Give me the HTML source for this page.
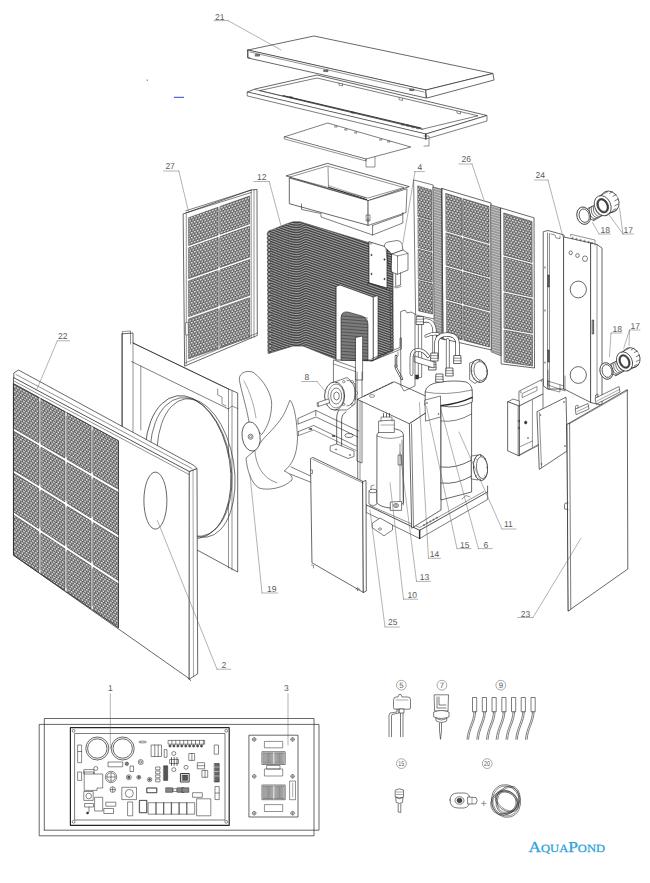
<!DOCTYPE html>
<html><head><meta charset="utf-8"><style>html,body{margin:0;padding:0;background:#fff;width:650px;height:883px;overflow:hidden}svg{display:block}text{-webkit-font-smoothing:antialiased;text-rendering:geometricPrecision}</style></head>
<body><svg width="650" height="883" viewBox="0 0 650 883" font-family="Liberation Sans, sans-serif" stroke-linejoin="round" stroke-linecap="round">
<defs><pattern id="holes" width="3" height="5" patternUnits="userSpaceOnUse" patternTransform="rotate(0)">
<rect width="3" height="5" fill="#606060"/><rect x="0.25" y="0.4" width="2.05" height="1.65" rx="0.75" fill="#f6f6f6"/><rect x="1.75" y="2.9" width="2.05" height="1.65" rx="0.75" fill="#f6f6f6"/><rect x="-1.25" y="2.9" width="2.05" height="1.65" rx="0.75" fill="#f6f6f6"/></pattern><pattern id="holes2" width="3" height="5" patternUnits="userSpaceOnUse" patternTransform="skewY(-19)">
<rect width="3" height="5" fill="#606060"/><rect x="0.25" y="0.4" width="2.05" height="1.65" rx="0.75" fill="#f6f6f6"/><rect x="1.75" y="2.9" width="2.05" height="1.65" rx="0.75" fill="#f6f6f6"/><rect x="-1.25" y="2.9" width="2.05" height="1.65" rx="0.75" fill="#f6f6f6"/></pattern><pattern id="holes3" width="3" height="5" patternUnits="userSpaceOnUse" patternTransform="skewY(17)">
<rect width="3" height="5" fill="#606060"/><rect x="0.25" y="0.4" width="2.05" height="1.65" rx="0.75" fill="#f6f6f6"/><rect x="1.75" y="2.9" width="2.05" height="1.65" rx="0.75" fill="#f6f6f6"/><rect x="-1.25" y="2.9" width="2.05" height="1.65" rx="0.75" fill="#f6f6f6"/></pattern><pattern id="holes4" width="3" height="5" patternUnits="userSpaceOnUse" patternTransform="skewY(28)">
<rect width="3" height="5" fill="#606060"/><rect x="0.25" y="0.4" width="2.05" height="1.65" rx="0.75" fill="#f6f6f6"/><rect x="1.75" y="2.9" width="2.05" height="1.65" rx="0.75" fill="#f6f6f6"/><rect x="-1.25" y="2.9" width="2.05" height="1.65" rx="0.75" fill="#f6f6f6"/></pattern><pattern id="slats" width="6" height="2.6" patternUnits="userSpaceOnUse" patternTransform="skewY(17)">
<rect width="6" height="2.6" fill="#eee"/><path d="M0 0.6H6M0 2H6" stroke="#444" stroke-width="0.55"/></pattern><clipPath id="coilclip"><polygon points="268.6,231 272.3,229.7 285,224.5 293,221.8 300,221.8 393,250 393,351 372,361 336.5,359.5 303,346 293,346 268.5,353.5"/></clipPath></defs>
<rect width="650" height="883" fill="#fff"/>
<polygon points="248,50 314,36 493,73.5 426,90" fill="#fff" stroke="#262626" stroke-width="0.7"/>
<polygon points="248,50 426,90 426,98 248,58" fill="#fff" stroke="#262626" stroke-width="0.7"/>
<polygon points="426,90 493,73.5 494,80 427,98" fill="#fff" stroke="#262626" stroke-width="0.7"/>
<line x1="250" y1="52" x2="424" y2="92" stroke="#262626" stroke-width="0.5"/>
<rect x="255.5" y="54.5" width="4" height="1.6" fill="#888" stroke="#262626" stroke-width="0.5"/>
<rect x="324" y="70" width="4" height="1.6" fill="#888" stroke="#262626" stroke-width="0.5"/>
<rect x="410" y="89" width="4" height="1.6" fill="#888" stroke="#262626" stroke-width="0.5"/>
<polyline points="248,50 248,57.5 250,58" fill="none" stroke="#262626" stroke-width="0.6"/>
<polygon points="247.6,92 255,89 317,75 487,115.5 426,134" fill="#fff" stroke="#262626" stroke-width="0.7"/>
<polygon points="260,90.5 317,78 478,115.8 423,129" fill="#fff" stroke="#262626" stroke-width="0.6"/>
<line x1="255" y1="89.5" x2="423" y2="129.5" stroke="#262626" stroke-width="0.5"/>
<line x1="283" y1="95.5" x2="421" y2="128" stroke="#262626" stroke-width="0.9"/>
<polygon points="247.6,92 426,134 426,139 247.6,96" fill="#fff" stroke="#262626" stroke-width="0.6"/>
<polygon points="426,134 487,115.5 487,121 426,139" fill="#fff" stroke="#262626" stroke-width="0.6"/>
<line x1="426" y1="134" x2="426" y2="139" stroke="#262626" stroke-width="0.9"/>
<polyline points="424,136 429,136 429,146 424,146" fill="none" stroke="#262626" stroke-width="0.5"/>
<rect x="290" y="96.5" width="2" height="1.3" fill="none" stroke="#262626" stroke-width="0.4"/>
<rect x="352" y="112" width="2" height="1.3" fill="none" stroke="#262626" stroke-width="0.4"/>
<rect x="402" y="124" width="2" height="1.3" fill="none" stroke="#262626" stroke-width="0.4"/>
<rect x="407" y="125" width="2" height="1.3" fill="none" stroke="#262626" stroke-width="0.4"/>
<rect x="412" y="126.5" width="2" height="1.3" fill="none" stroke="#262626" stroke-width="0.4"/>
<rect x="417" y="127.5" width="2" height="1.3" fill="none" stroke="#262626" stroke-width="0.4"/>
<polyline points="339,83 339,85.2 342.5,86 342.5,83.8" fill="none" stroke="#262626" stroke-width="0.5"/>
<polyline points="399,97.5 399,99.7 402.5,100.5 402.5,98.3" fill="none" stroke="#262626" stroke-width="0.5"/>
<polyline points="457,111 457,113.2 460.5,114 460.5,111.8" fill="none" stroke="#262626" stroke-width="0.5"/>
<polygon points="284.6,136.8 327.7,123 410.8,147 366,159" fill="#fff" stroke="#262626" stroke-width="0.6"/>
<polygon points="284.6,136.8 366,159 366,161 284.6,139" fill="#fff" stroke="#262626" stroke-width="0.5"/>
<polyline points="366,159 366,167 375,167 375,157" fill="none" stroke="#262626" stroke-width="0.5"/>
<rect x="335" y="126" width="2" height="1.2" fill="none" stroke="#262626" stroke-width="0.4"/>
<rect x="345" y="129" width="2" height="1.2" fill="none" stroke="#262626" stroke-width="0.4"/>
<rect x="355" y="132" width="2" height="1.2" fill="none" stroke="#262626" stroke-width="0.4"/>
<rect x="380" y="139" width="2" height="1.2" fill="none" stroke="#262626" stroke-width="0.4"/>
<rect x="388" y="141" width="2" height="1.2" fill="none" stroke="#262626" stroke-width="0.4"/>
<polygon points="286.5,175.8 327.4,163.4 409.2,186.6 368.3,200.6" fill="#fff" stroke="#262626" stroke-width="0.7"/>
<polygon points="290,177 327.4,166 404,187.5 368,198" fill="#fff" stroke="#262626" stroke-width="0.5"/>
<polygon points="289.7,178 368.3,200.6 368.3,225.4 289.7,203.8" fill="#fff" stroke="#262626" stroke-width="0.7"/>
<polygon points="368.3,200.6 407,188.8 406,212.5 368.3,225.4" fill="#fff" stroke="#262626" stroke-width="0.6"/>
<line x1="328" y1="167" x2="328.5" y2="187" stroke="#262626" stroke-width="0.5"/>
<line x1="329" y1="187.5" x2="366.5" y2="199.5" stroke="#262626" stroke-width="1.0"/>
<line x1="329" y1="185.8" x2="366" y2="197.8" stroke="#262626" stroke-width="0.4"/>
<polyline points="301.5,203.8 301.5,209.5 321,213.5 321,217 372.6,235 402.8,223 402.8,212.5" fill="none" stroke="#262626" stroke-width="0.6"/>
<line x1="372.6" y1="225.4" x2="372.6" y2="235" stroke="#262626" stroke-width="0.6"/>
<line x1="372.6" y1="225.4" x2="402.8" y2="214.6" stroke="#262626" stroke-width="0.6"/>
<rect x="366.5" y="215" width="3.5" height="6" fill="none" stroke="#262626" stroke-width="0.5"/>
<ellipse cx="368.2" cy="219.5" rx="1" ry="1" fill="none" stroke="#262626" stroke-width="0.4" stroke-linecap="butt"/>
<polygon points="183.5,213.8 251.2,190 257,189.5 257.3,335.4 185,366" fill="#fff" stroke="#262626" stroke-width="0.7"/>
<polyline points="185.8,210.8 251.2,190" fill="none" stroke="#262626" stroke-width="0.6"/>
<polyline points="185.8,213 251.2,192.5" fill="none" stroke="#262626" stroke-width="0.6"/>
<line x1="251.2" y1="190" x2="251.2" y2="338" stroke="#262626" stroke-width="0.5"/>
<line x1="254" y1="189.6" x2="254" y2="337" stroke="#262626" stroke-width="0.5"/>
<line x1="186.3" y1="214" x2="186.3" y2="364" stroke="#262626" stroke-width="0.5"/>
<polyline points="185,363 257.3,333" fill="none" stroke="#262626" stroke-width="0.5"/>
<polygon points="188.8,217.7 218.1,207.3 218.1,235 188.8,245.4" fill="url(#holes2)" stroke="#262626" stroke-width="0.5"/>
<polygon points="188.8,247.8 218.1,237.4 218.1,268.2 188.8,278.5" fill="url(#holes2)" stroke="#262626" stroke-width="0.5"/>
<polygon points="188.8,280.9 218.1,270.6 218.1,306.3 188.8,316.6" fill="url(#holes2)" stroke="#262626" stroke-width="0.5"/>
<polygon points="188.8,319 218.1,308.7 218.1,348.5 188.8,358.7" fill="url(#holes2)" stroke="#262626" stroke-width="0.5"/>
<polygon points="220.3,206.4 249.6,196 249.6,223.8 220.3,234.2" fill="url(#holes2)" stroke="#262626" stroke-width="0.5"/>
<polygon points="220.3,236.6 249.6,226.2 249.6,257.1 220.3,267.4" fill="url(#holes2)" stroke="#262626" stroke-width="0.5"/>
<polygon points="220.3,269.8 249.6,259.5 249.6,295.3 220.3,305.5" fill="url(#holes2)" stroke="#262626" stroke-width="0.5"/>
<polygon points="220.3,307.9 249.6,297.7 249.6,337.5 220.3,347.7" fill="url(#holes2)" stroke="#262626" stroke-width="0.5"/>
<line x1="219.2" y1="209.9" x2="219.2" y2="232.8" stroke="#777" stroke-width="0.8"/>
<line x1="219.2" y1="238.8" x2="219.2" y2="266" stroke="#777" stroke-width="0.8"/>
<line x1="219.2" y1="272" x2="219.2" y2="304.1" stroke="#777" stroke-width="0.8"/>
<line x1="219.2" y1="310.1" x2="219.2" y2="345.1" stroke="#777" stroke-width="0.8"/>
<rect x="186" y="322.6" width="2.3" height="12.4" fill="#fff" stroke="#262626" stroke-width="0.5"/>
<polygon points="414,180 433.2,185 434.5,319 416,315" fill="#fff" stroke="#262626" stroke-width="0.6"/>
<polygon points="418,186 431.5,190 431.7,220.2 418.2,216.5" fill="url(#holes3)" stroke="#262626" stroke-width="0.5"/>
<polygon points="418.3,218 431.8,221.8 432,251.2 418.5,247.7" fill="url(#holes3)" stroke="#262626" stroke-width="0.5"/>
<polygon points="418.5,249.3 432,252.8 432.2,282.2 418.7,279" fill="url(#holes3)" stroke="#262626" stroke-width="0.5"/>
<polygon points="418.8,280.5 432.3,283.8 432.5,314 419,311" fill="url(#holes3)" stroke="#262626" stroke-width="0.5"/>
<polygon points="433.2,187 444.3,190 444.8,340 434.5,336" fill="url(#slats)" stroke="#262626" stroke-width="0.5"/>
<polygon points="442,188.5 491,203 491.5,350 443.5,339" fill="#fff" stroke="#262626" stroke-width="0.7"/>
<line x1="442" y1="188.5" x2="442" y2="339" stroke="#262626" stroke-width="0.6"/>
<polygon points="446,193.5 461.4,198.2 461.6,235.4 446.3,231" fill="url(#holes3)" stroke="#262626" stroke-width="0.5"/>
<polygon points="446.3,233 461.6,237.4 461.8,269.5 446.5,265.2" fill="url(#holes3)" stroke="#262626" stroke-width="0.5"/>
<polygon points="446.5,267.2 461.8,271.5 462,303.5 446.7,299.4" fill="url(#holes3)" stroke="#262626" stroke-width="0.5"/>
<polygon points="446.8,301.4 462,305.5 462.2,339.9 447,336" fill="url(#holes3)" stroke="#262626" stroke-width="0.5"/>
<polygon points="463.3,198.7 489,206.5 489.1,243.4 463.5,236" fill="url(#holes3)" stroke="#262626" stroke-width="0.5"/>
<polygon points="463.5,238 489.1,245.4 489.3,277.2 463.7,270" fill="url(#holes3)" stroke="#262626" stroke-width="0.5"/>
<polygon points="463.7,272 489.3,279.1 489.4,310.9 463.9,304" fill="url(#holes3)" stroke="#262626" stroke-width="0.5"/>
<polygon points="463.9,306 489.4,312.9 489.5,347 464.1,340.4" fill="url(#holes3)" stroke="#262626" stroke-width="0.5"/>
<line x1="462.4" y1="200.9" x2="462.5" y2="234.2" stroke="#777" stroke-width="0.8"/>
<line x1="462.6" y1="239.2" x2="462.7" y2="268.2" stroke="#777" stroke-width="0.8"/>
<line x1="462.8" y1="273.2" x2="462.9" y2="302.3" stroke="#777" stroke-width="0.8"/>
<line x1="463" y1="307.2" x2="463.1" y2="337.7" stroke="#777" stroke-width="0.8"/>
<polygon points="491,205 501,208 501.5,356 491.5,352" fill="url(#slats)" stroke="#262626" stroke-width="0.5"/>
<polygon points="501,208 534,217.8 534.5,368 501.5,364" fill="#fff" stroke="#262626" stroke-width="0.7"/>
<polygon points="504,213 532,221.5 532.1,262.4 504.1,255.2" fill="url(#holes3)" stroke="#262626" stroke-width="0.5"/>
<polygon points="504.1,257.2 532.1,264.4 532.3,297.1 504.3,291" fill="url(#holes3)" stroke="#262626" stroke-width="0.5"/>
<polygon points="504.3,293 532.3,299.1 532.4,333.2 504.4,328.2" fill="url(#holes3)" stroke="#262626" stroke-width="0.5"/>
<polygon points="504.4,330.2 532.4,335.2 532.5,366 504.5,362" fill="url(#holes3)" stroke="#262626" stroke-width="0.5"/>
<polygon points="543.6,231.6 548,230.5 564,235 564,389 547.6,389 543.6,386" fill="#fff" stroke="#262626" stroke-width="0.7"/>
<line x1="547.6" y1="233" x2="547.6" y2="388" stroke="#262626" stroke-width="0.6"/>
<line x1="549.5" y1="233.5" x2="549.5" y2="388" stroke="#262626" stroke-width="0.5"/>
<polyline points="551,234 555,235 556,238 560,238.5 560,236" fill="none" stroke="#262626" stroke-width="0.5"/>
<rect x="548" y="275" width="1.3" height="12" fill="#666" stroke="#262626" stroke-width="0.5"/>
<rect x="548" y="350" width="1.3" height="12" fill="#666" stroke="#262626" stroke-width="0.5"/>
<line x1="545" y1="267" x2="545" y2="268" stroke="#262626" stroke-width="0.8"/>
<line x1="545" y1="310" x2="545" y2="311" stroke="#262626" stroke-width="0.8"/>
<line x1="545" y1="362" x2="545" y2="363" stroke="#262626" stroke-width="0.8"/>
<polyline points="547.6,381 564,386" fill="none" stroke="#262626" stroke-width="0.5"/>
<polygon points="564,237 591,243 591,402.6 564,389" fill="#fff" stroke="#262626" stroke-width="0.7"/>
<polygon points="591,243 597,244.5 602,248 602,405 597,404 591,402.6" fill="#fff" stroke="#262626" stroke-width="0.7"/>
<line x1="597" y1="244.5" x2="597" y2="404" stroke="#262626" stroke-width="0.5"/>
<rect x="592.5" y="320" width="1.2" height="14" fill="#666" stroke="#262626" stroke-width="0.5"/>
<ellipse cx="578.3" cy="289.5" rx="8.1" ry="8.4" fill="none" stroke="#262626" stroke-width="0.7" stroke-linecap="butt"/>
<ellipse cx="578.3" cy="375" rx="8.1" ry="8.4" fill="none" stroke="#262626" stroke-width="0.7" stroke-linecap="butt"/>
<ellipse cx="570.7" cy="252.8" rx="1.7" ry="1.9" fill="none" stroke="#262626" stroke-width="0.6" stroke-linecap="butt"/>
<ellipse cx="577.5" cy="255.5" rx="1.8" ry="2" fill="none" stroke="#262626" stroke-width="0.6" stroke-linecap="butt"/>
<ellipse cx="585" cy="258.7" rx="2.5" ry="2.8" fill="none" stroke="#262626" stroke-width="0.6" stroke-linecap="butt"/>
<polyline points="570.7,236 570.7,234.3 595,240 595,245" fill="none" stroke="#262626" stroke-width="0.5"/>
<ellipse cx="572.5" cy="238" rx="0.8" ry="0.8" fill="none" stroke="#262626" stroke-width="0.45" stroke-linecap="butt"/>
<ellipse cx="576.5" cy="239" rx="0.8" ry="0.8" fill="none" stroke="#262626" stroke-width="0.45" stroke-linecap="butt"/>
<ellipse cx="580.5" cy="240" rx="0.8" ry="0.8" fill="none" stroke="#262626" stroke-width="0.45" stroke-linecap="butt"/>
<ellipse cx="584.5" cy="241" rx="0.8" ry="0.8" fill="none" stroke="#262626" stroke-width="0.45" stroke-linecap="butt"/>
<ellipse cx="588.5" cy="242" rx="0.8" ry="0.8" fill="none" stroke="#262626" stroke-width="0.45" stroke-linecap="butt"/>
<ellipse cx="592" cy="243" rx="0.8" ry="0.8" fill="none" stroke="#262626" stroke-width="0.45" stroke-linecap="butt"/>
<polyline points="548,381 548,389 560,392 560,385" fill="none" stroke="#262626" stroke-width="0.5"/>
<g clip-path="url(#coilclip)">
<polygon points="268.6,231 272.3,229.7 285,224.5 293,221.8 300,221.8 393,250 393,351 372,361 336.5,359.5 303,346 293,346 268.5,353.5" fill="#454545"/>
<path d="M268 180.4 C282 185.4 290 189.7 297 189.7 C301 189.7 303 187.2 306 186.7 L393 217.1" fill="none" stroke="#b8b8b8" stroke-width="0.85"/>
<path d="M268 182.9 C282 187.9 290 192.2 297 192.2 C301 192.2 303 189.7 306 189.2 L393 219.6" fill="none" stroke="#b8b8b8" stroke-width="0.85"/>
<path d="M268 185.3 C282 190.3 290 194.6 297 194.6 C301 194.6 303 192.1 306 191.6 L393 222" fill="none" stroke="#b8b8b8" stroke-width="0.85"/>
<path d="M268 187.8 C282 192.8 290 197.1 297 197.1 C301 197.1 303 194.6 306 194.1 L393 224.5" fill="none" stroke="#b8b8b8" stroke-width="0.85"/>
<path d="M268 190.2 C282 195.2 290 199.5 297 199.5 C301 199.5 303 197 306 196.5 L393 226.9" fill="none" stroke="#b8b8b8" stroke-width="0.85"/>
<path d="M268 192.7 C282 197.7 290 201.9 297 201.9 C301 201.9 303 199.4 306 198.9 L393 229.4" fill="none" stroke="#b8b8b8" stroke-width="0.85"/>
<path d="M268 195.1 C282 200.1 290 204.4 297 204.4 C301 204.4 303 201.9 306 201.4 L393 231.8" fill="none" stroke="#b8b8b8" stroke-width="0.85"/>
<path d="M268 197.6 C282 202.6 290 206.8 297 206.8 C301 206.8 303 204.3 306 203.8 L393 234.3" fill="none" stroke="#b8b8b8" stroke-width="0.85"/>
<path d="M268 200 C282 205 290 209.3 297 209.3 C301 209.3 303 206.8 306 206.3 L393 236.8" fill="none" stroke="#b8b8b8" stroke-width="0.85"/>
<path d="M268 202.5 C282 207.5 290 211.8 297 211.8 C301 211.8 303 209.2 306 208.8 L393 239.2" fill="none" stroke="#b8b8b8" stroke-width="0.85"/>
<path d="M268 204.9 C282 209.9 290 214.2 297 214.2 C301 214.2 303 211.7 306 211.2 L393 241.6" fill="none" stroke="#b8b8b8" stroke-width="0.85"/>
<path d="M268 207.4 C282 212.4 290 216.7 297 216.7 C301 216.7 303 214.2 306 213.7 L393 244.1" fill="none" stroke="#b8b8b8" stroke-width="0.85"/>
<path d="M268 209.8 C282 214.8 290 219.1 297 219.1 C301 219.1 303 216.6 306 216.1 L393 246.5" fill="none" stroke="#b8b8b8" stroke-width="0.85"/>
<path d="M268 212.3 C282 217.3 290 221.6 297 221.6 C301 221.6 303 219.1 306 218.6 L393 249" fill="none" stroke="#b8b8b8" stroke-width="0.85"/>
<path d="M268 214.7 C282 219.7 290 224 297 224 C301 224 303 221.5 306 221 L393 251.4" fill="none" stroke="#b8b8b8" stroke-width="0.85"/>
<path d="M268 217.2 C282 222.2 290 226.4 297 226.4 C301 226.4 303 223.9 306 223.4 L393 253.9" fill="none" stroke="#b8b8b8" stroke-width="0.85"/>
<path d="M268 219.6 C282 224.6 290 228.9 297 228.9 C301 228.9 303 226.4 306 225.9 L393 256.4" fill="none" stroke="#b8b8b8" stroke-width="0.85"/>
<path d="M268 222.1 C282 227.1 290 231.3 297 231.3 C301 231.3 303 228.8 306 228.3 L393 258.8" fill="none" stroke="#b8b8b8" stroke-width="0.85"/>
<path d="M268 224.5 C282 229.5 290 233.8 297 233.8 C301 233.8 303 231.3 306 230.8 L393 261.2" fill="none" stroke="#b8b8b8" stroke-width="0.85"/>
<path d="M268 227 C282 232 290 236.2 297 236.2 C301 236.2 303 233.8 306 233.2 L393 263.7" fill="none" stroke="#b8b8b8" stroke-width="0.85"/>
<path d="M268 229.4 C282 234.4 290 238.7 297 238.7 C301 238.7 303 236.2 306 235.7 L393 266.1" fill="none" stroke="#b8b8b8" stroke-width="0.85"/>
<path d="M268 231.9 C282 236.9 290 241.2 297 241.2 C301 241.2 303 238.7 306 238.2 L393 268.6" fill="none" stroke="#b8b8b8" stroke-width="0.85"/>
<path d="M268 234.3 C282 239.3 290 243.6 297 243.6 C301 243.6 303 241.1 306 240.6 L393 271.1" fill="none" stroke="#b8b8b8" stroke-width="0.85"/>
<path d="M268 236.8 C282 241.8 290 246.1 297 246.1 C301 246.1 303 243.6 306 243.1 L393 273.5" fill="none" stroke="#b8b8b8" stroke-width="0.85"/>
<path d="M268 239.2 C282 244.2 290 248.5 297 248.5 C301 248.5 303 246 306 245.5 L393 275.9" fill="none" stroke="#b8b8b8" stroke-width="0.85"/>
<path d="M268 241.7 C282 246.7 290 250.9 297 250.9 C301 250.9 303 248.4 306 247.9 L393 278.4" fill="none" stroke="#b8b8b8" stroke-width="0.85"/>
<path d="M268 244.1 C282 249.1 290 253.4 297 253.4 C301 253.4 303 250.9 306 250.4 L393 280.9" fill="none" stroke="#b8b8b8" stroke-width="0.85"/>
<path d="M268 246.6 C282 251.6 290 255.8 297 255.8 C301 255.8 303 253.3 306 252.8 L393 283.3" fill="none" stroke="#b8b8b8" stroke-width="0.85"/>
<path d="M268 249 C282 254 290 258.3 297 258.3 C301 258.3 303 255.8 306 255.3 L393 285.8" fill="none" stroke="#b8b8b8" stroke-width="0.85"/>
<path d="M268 251.5 C282 256.5 290 260.8 297 260.8 C301 260.8 303 258.2 306 257.8 L393 288.2" fill="none" stroke="#b8b8b8" stroke-width="0.85"/>
<path d="M268 253.9 C282 258.9 290 263.2 297 263.2 C301 263.2 303 260.7 306 260.2 L393 290.6" fill="none" stroke="#b8b8b8" stroke-width="0.85"/>
<path d="M268 256.4 C282 261.4 290 265.6 297 265.6 C301 265.6 303 263.1 306 262.6 L393 293.1" fill="none" stroke="#b8b8b8" stroke-width="0.85"/>
<path d="M268 258.8 C282 263.8 290 268.1 297 268.1 C301 268.1 303 265.6 306 265.1 L393 295.6" fill="none" stroke="#b8b8b8" stroke-width="0.85"/>
<path d="M268 261.3 C282 266.3 290 270.6 297 270.6 C301 270.6 303 268.1 306 267.6 L393 298" fill="none" stroke="#b8b8b8" stroke-width="0.85"/>
<path d="M268 263.7 C282 268.7 290 273 297 273 C301 273 303 270.5 306 270 L393 300.4" fill="none" stroke="#b8b8b8" stroke-width="0.85"/>
<path d="M268 266.2 C282 271.2 290 275.4 297 275.4 C301 275.4 303 272.9 306 272.4 L393 302.9" fill="none" stroke="#b8b8b8" stroke-width="0.85"/>
<path d="M268 268.6 C282 273.6 290 277.9 297 277.9 C301 277.9 303 275.4 306 274.9 L393 305.3" fill="none" stroke="#b8b8b8" stroke-width="0.85"/>
<path d="M268 271.1 C282 276.1 290 280.4 297 280.4 C301 280.4 303 277.9 306 277.4 L393 307.8" fill="none" stroke="#b8b8b8" stroke-width="0.85"/>
<path d="M268 273.5 C282 278.5 290 282.8 297 282.8 C301 282.8 303 280.3 306 279.8 L393 310.2" fill="none" stroke="#b8b8b8" stroke-width="0.85"/>
<path d="M268 276 C282 281 290 285.2 297 285.2 C301 285.2 303 282.8 306 282.2 L393 312.7" fill="none" stroke="#b8b8b8" stroke-width="0.85"/>
<path d="M268 278.4 C282 283.4 290 287.7 297 287.7 C301 287.7 303 285.2 306 284.7 L393 315.1" fill="none" stroke="#b8b8b8" stroke-width="0.85"/>
<path d="M268 280.9 C282 285.9 290 290.1 297 290.1 C301 290.1 303 287.6 306 287.1 L393 317.6" fill="none" stroke="#b8b8b8" stroke-width="0.85"/>
<path d="M268 283.3 C282 288.3 290 292.6 297 292.6 C301 292.6 303 290.1 306 289.6 L393 320.1" fill="none" stroke="#b8b8b8" stroke-width="0.85"/>
<path d="M268 285.8 C282 290.8 290 295.1 297 295.1 C301 295.1 303 292.6 306 292.1 L393 322.5" fill="none" stroke="#b8b8b8" stroke-width="0.85"/>
<path d="M268 288.2 C282 293.2 290 297.5 297 297.5 C301 297.5 303 295 306 294.5 L393 324.9" fill="none" stroke="#b8b8b8" stroke-width="0.85"/>
<path d="M268 290.7 C282 295.7 290 299.9 297 299.9 C301 299.9 303 297.4 306 296.9 L393 327.4" fill="none" stroke="#b8b8b8" stroke-width="0.85"/>
<path d="M268 293.1 C282 298.1 290 302.4 297 302.4 C301 302.4 303 299.9 306 299.4 L393 329.8" fill="none" stroke="#b8b8b8" stroke-width="0.85"/>
<path d="M268 295.6 C282 300.6 290 304.9 297 304.9 C301 304.9 303 302.4 306 301.9 L393 332.3" fill="none" stroke="#b8b8b8" stroke-width="0.85"/>
<path d="M268 298 C282 303 290 307.3 297 307.3 C301 307.3 303 304.8 306 304.3 L393 334.8" fill="none" stroke="#b8b8b8" stroke-width="0.85"/>
<path d="M268 300.5 C282 305.5 290 309.8 297 309.8 C301 309.8 303 307.2 306 306.8 L393 337.2" fill="none" stroke="#b8b8b8" stroke-width="0.85"/>
<path d="M268 302.9 C282 307.9 290 312.2 297 312.2 C301 312.2 303 309.7 306 309.2 L393 339.6" fill="none" stroke="#b8b8b8" stroke-width="0.85"/>
<path d="M268 305.4 C282 310.4 290 314.6 297 314.6 C301 314.6 303 312.1 306 311.6 L393 342.1" fill="none" stroke="#b8b8b8" stroke-width="0.85"/>
<path d="M268 307.8 C282 312.8 290 317.1 297 317.1 C301 317.1 303 314.6 306 314.1 L393 344.6" fill="none" stroke="#b8b8b8" stroke-width="0.85"/>
<path d="M268 310.3 C282 315.3 290 319.6 297 319.6 C301 319.6 303 317.1 306 316.6 L393 347" fill="none" stroke="#b8b8b8" stroke-width="0.85"/>
<path d="M268 312.7 C282 317.7 290 322 297 322 C301 322 303 319.5 306 319 L393 349.4" fill="none" stroke="#b8b8b8" stroke-width="0.85"/>
<path d="M268 315.2 C282 320.2 290 324.4 297 324.4 C301 324.4 303 321.9 306 321.4 L393 351.9" fill="none" stroke="#b8b8b8" stroke-width="0.85"/>
<path d="M268 317.6 C282 322.6 290 326.9 297 326.9 C301 326.9 303 324.4 306 323.9 L393 354.3" fill="none" stroke="#b8b8b8" stroke-width="0.85"/>
<path d="M268 320.1 C282 325.1 290 329.4 297 329.4 C301 329.4 303 326.9 306 326.4 L393 356.8" fill="none" stroke="#b8b8b8" stroke-width="0.85"/>
<path d="M268 322.5 C282 327.5 290 331.8 297 331.8 C301 331.8 303 329.3 306 328.8 L393 359.2" fill="none" stroke="#b8b8b8" stroke-width="0.85"/>
<path d="M268 325 C282 330 290 334.2 297 334.2 C301 334.2 303 331.8 306 331.2 L393 361.7" fill="none" stroke="#b8b8b8" stroke-width="0.85"/>
<path d="M268 327.4 C282 332.4 290 336.7 297 336.7 C301 336.7 303 334.2 306 333.7 L393 364.1" fill="none" stroke="#b8b8b8" stroke-width="0.85"/>
<path d="M268 329.9 C282 334.9 290 339.1 297 339.1 C301 339.1 303 336.6 306 336.1 L393 366.6" fill="none" stroke="#b8b8b8" stroke-width="0.85"/>
<path d="M268 332.3 C282 337.3 290 341.6 297 341.6 C301 341.6 303 339.1 306 338.6 L393 369.1" fill="none" stroke="#b8b8b8" stroke-width="0.85"/>
<path d="M268 334.8 C282 339.8 290 344.1 297 344.1 C301 344.1 303 341.6 306 341.1 L393 371.5" fill="none" stroke="#b8b8b8" stroke-width="0.85"/>
<path d="M268 337.2 C282 342.2 290 346.5 297 346.5 C301 346.5 303 344 306 343.5 L393 373.9" fill="none" stroke="#b8b8b8" stroke-width="0.85"/>
<path d="M268 339.7 C282 344.7 290 348.9 297 348.9 C301 348.9 303 346.4 306 345.9 L393 376.4" fill="none" stroke="#b8b8b8" stroke-width="0.85"/>
<path d="M268 342.1 C282 347.1 290 351.4 297 351.4 C301 351.4 303 348.9 306 348.4 L393 378.8" fill="none" stroke="#b8b8b8" stroke-width="0.85"/>
<path d="M268 344.6 C282 349.6 290 353.9 297 353.9 C301 353.9 303 351.4 306 350.9 L393 381.3" fill="none" stroke="#b8b8b8" stroke-width="0.85"/>
<path d="M268 347 C282 352 290 356.3 297 356.3 C301 356.3 303 353.8 306 353.3 L393 383.8" fill="none" stroke="#b8b8b8" stroke-width="0.85"/>
<path d="M268 349.5 C282 354.5 290 358.8 297 358.8 C301 358.8 303 356.2 306 355.8 L393 386.2" fill="none" stroke="#b8b8b8" stroke-width="0.85"/>
</g>
<polygon points="268.6,231 272.3,229.7 285,224.5 293,221.8 300,221.8 393,250 393,351 372,361 336.5,359.5 303,346 293,346 268.5,353.5" fill="none" stroke="#262626" stroke-width="0.6"/>
<ellipse cx="268.6" cy="234" rx="1.5" ry="1.7" fill="#888" stroke="#262626" stroke-width="0.6" stroke-linecap="butt"/>
<ellipse cx="269.5" cy="234" rx="0.5" ry="0.8" fill="#eee" stroke="none" stroke-width="0" stroke-linecap="butt"/>
<ellipse cx="268.6" cy="238" rx="1.5" ry="1.7" fill="#888" stroke="#262626" stroke-width="0.6" stroke-linecap="butt"/>
<ellipse cx="269.5" cy="238" rx="0.5" ry="0.8" fill="#eee" stroke="none" stroke-width="0" stroke-linecap="butt"/>
<ellipse cx="268.7" cy="242" rx="1.5" ry="1.7" fill="#888" stroke="#262626" stroke-width="0.6" stroke-linecap="butt"/>
<ellipse cx="269.6" cy="242" rx="0.5" ry="0.8" fill="#eee" stroke="none" stroke-width="0" stroke-linecap="butt"/>
<ellipse cx="268.7" cy="246" rx="1.5" ry="1.7" fill="#888" stroke="#262626" stroke-width="0.6" stroke-linecap="butt"/>
<ellipse cx="269.6" cy="246" rx="0.5" ry="0.8" fill="#eee" stroke="none" stroke-width="0" stroke-linecap="butt"/>
<ellipse cx="268.7" cy="250" rx="1.5" ry="1.7" fill="#888" stroke="#262626" stroke-width="0.6" stroke-linecap="butt"/>
<ellipse cx="269.6" cy="250" rx="0.5" ry="0.8" fill="#eee" stroke="none" stroke-width="0" stroke-linecap="butt"/>
<ellipse cx="268.8" cy="254" rx="1.5" ry="1.7" fill="#888" stroke="#262626" stroke-width="0.6" stroke-linecap="butt"/>
<ellipse cx="269.7" cy="254" rx="0.5" ry="0.8" fill="#eee" stroke="none" stroke-width="0" stroke-linecap="butt"/>
<ellipse cx="268.8" cy="258" rx="1.5" ry="1.7" fill="#888" stroke="#262626" stroke-width="0.6" stroke-linecap="butt"/>
<ellipse cx="269.7" cy="258" rx="0.5" ry="0.8" fill="#eee" stroke="none" stroke-width="0" stroke-linecap="butt"/>
<ellipse cx="268.8" cy="262" rx="1.5" ry="1.7" fill="#888" stroke="#262626" stroke-width="0.6" stroke-linecap="butt"/>
<ellipse cx="269.7" cy="262" rx="0.5" ry="0.8" fill="#eee" stroke="none" stroke-width="0" stroke-linecap="butt"/>
<ellipse cx="268.9" cy="266" rx="1.5" ry="1.7" fill="#888" stroke="#262626" stroke-width="0.6" stroke-linecap="butt"/>
<ellipse cx="269.8" cy="266" rx="0.5" ry="0.8" fill="#eee" stroke="none" stroke-width="0" stroke-linecap="butt"/>
<ellipse cx="268.9" cy="270" rx="1.5" ry="1.7" fill="#888" stroke="#262626" stroke-width="0.6" stroke-linecap="butt"/>
<ellipse cx="269.8" cy="270" rx="0.5" ry="0.8" fill="#eee" stroke="none" stroke-width="0" stroke-linecap="butt"/>
<ellipse cx="268.9" cy="274" rx="1.5" ry="1.7" fill="#888" stroke="#262626" stroke-width="0.6" stroke-linecap="butt"/>
<ellipse cx="269.8" cy="274" rx="0.5" ry="0.8" fill="#eee" stroke="none" stroke-width="0" stroke-linecap="butt"/>
<ellipse cx="268.9" cy="278" rx="1.5" ry="1.7" fill="#888" stroke="#262626" stroke-width="0.6" stroke-linecap="butt"/>
<ellipse cx="269.8" cy="278" rx="0.5" ry="0.8" fill="#eee" stroke="none" stroke-width="0" stroke-linecap="butt"/>
<ellipse cx="269" cy="282" rx="1.5" ry="1.7" fill="#888" stroke="#262626" stroke-width="0.6" stroke-linecap="butt"/>
<ellipse cx="269.9" cy="282" rx="0.5" ry="0.8" fill="#eee" stroke="none" stroke-width="0" stroke-linecap="butt"/>
<ellipse cx="269" cy="286" rx="1.5" ry="1.7" fill="#888" stroke="#262626" stroke-width="0.6" stroke-linecap="butt"/>
<ellipse cx="269.9" cy="286" rx="0.5" ry="0.8" fill="#eee" stroke="none" stroke-width="0" stroke-linecap="butt"/>
<ellipse cx="269" cy="290" rx="1.5" ry="1.7" fill="#888" stroke="#262626" stroke-width="0.6" stroke-linecap="butt"/>
<ellipse cx="269.9" cy="290" rx="0.5" ry="0.8" fill="#eee" stroke="none" stroke-width="0" stroke-linecap="butt"/>
<ellipse cx="269.1" cy="294" rx="1.5" ry="1.7" fill="#888" stroke="#262626" stroke-width="0.6" stroke-linecap="butt"/>
<ellipse cx="270" cy="294" rx="0.5" ry="0.8" fill="#eee" stroke="none" stroke-width="0" stroke-linecap="butt"/>
<ellipse cx="269.1" cy="298" rx="1.5" ry="1.7" fill="#888" stroke="#262626" stroke-width="0.6" stroke-linecap="butt"/>
<ellipse cx="270" cy="298" rx="0.5" ry="0.8" fill="#eee" stroke="none" stroke-width="0" stroke-linecap="butt"/>
<ellipse cx="269.1" cy="302" rx="1.5" ry="1.7" fill="#888" stroke="#262626" stroke-width="0.6" stroke-linecap="butt"/>
<ellipse cx="270" cy="302" rx="0.5" ry="0.8" fill="#eee" stroke="none" stroke-width="0" stroke-linecap="butt"/>
<ellipse cx="269.2" cy="306" rx="1.5" ry="1.7" fill="#888" stroke="#262626" stroke-width="0.6" stroke-linecap="butt"/>
<ellipse cx="270.1" cy="306" rx="0.5" ry="0.8" fill="#eee" stroke="none" stroke-width="0" stroke-linecap="butt"/>
<ellipse cx="269.2" cy="310" rx="1.5" ry="1.7" fill="#888" stroke="#262626" stroke-width="0.6" stroke-linecap="butt"/>
<ellipse cx="270.1" cy="310" rx="0.5" ry="0.8" fill="#eee" stroke="none" stroke-width="0" stroke-linecap="butt"/>
<ellipse cx="269.2" cy="314" rx="1.5" ry="1.7" fill="#888" stroke="#262626" stroke-width="0.6" stroke-linecap="butt"/>
<ellipse cx="270.1" cy="314" rx="0.5" ry="0.8" fill="#eee" stroke="none" stroke-width="0" stroke-linecap="butt"/>
<ellipse cx="269.2" cy="318" rx="1.5" ry="1.7" fill="#888" stroke="#262626" stroke-width="0.6" stroke-linecap="butt"/>
<ellipse cx="270.1" cy="318" rx="0.5" ry="0.8" fill="#eee" stroke="none" stroke-width="0" stroke-linecap="butt"/>
<ellipse cx="269.3" cy="322" rx="1.5" ry="1.7" fill="#888" stroke="#262626" stroke-width="0.6" stroke-linecap="butt"/>
<ellipse cx="270.2" cy="322" rx="0.5" ry="0.8" fill="#eee" stroke="none" stroke-width="0" stroke-linecap="butt"/>
<ellipse cx="269.3" cy="326" rx="1.5" ry="1.7" fill="#888" stroke="#262626" stroke-width="0.6" stroke-linecap="butt"/>
<ellipse cx="270.2" cy="326" rx="0.5" ry="0.8" fill="#eee" stroke="none" stroke-width="0" stroke-linecap="butt"/>
<ellipse cx="269.3" cy="330" rx="1.5" ry="1.7" fill="#888" stroke="#262626" stroke-width="0.6" stroke-linecap="butt"/>
<ellipse cx="270.2" cy="330" rx="0.5" ry="0.8" fill="#eee" stroke="none" stroke-width="0" stroke-linecap="butt"/>
<ellipse cx="269.4" cy="334" rx="1.5" ry="1.7" fill="#888" stroke="#262626" stroke-width="0.6" stroke-linecap="butt"/>
<ellipse cx="270.3" cy="334" rx="0.5" ry="0.8" fill="#eee" stroke="none" stroke-width="0" stroke-linecap="butt"/>
<ellipse cx="269.4" cy="338" rx="1.5" ry="1.7" fill="#888" stroke="#262626" stroke-width="0.6" stroke-linecap="butt"/>
<ellipse cx="270.3" cy="338" rx="0.5" ry="0.8" fill="#eee" stroke="none" stroke-width="0" stroke-linecap="butt"/>
<ellipse cx="269.4" cy="342" rx="1.5" ry="1.7" fill="#888" stroke="#262626" stroke-width="0.6" stroke-linecap="butt"/>
<ellipse cx="270.3" cy="342" rx="0.5" ry="0.8" fill="#eee" stroke="none" stroke-width="0" stroke-linecap="butt"/>
<ellipse cx="269.5" cy="346" rx="1.5" ry="1.7" fill="#888" stroke="#262626" stroke-width="0.6" stroke-linecap="butt"/>
<ellipse cx="270.4" cy="346" rx="0.5" ry="0.8" fill="#eee" stroke="none" stroke-width="0" stroke-linecap="butt"/>
<ellipse cx="269.5" cy="350" rx="1.5" ry="1.7" fill="#888" stroke="#262626" stroke-width="0.6" stroke-linecap="butt"/>
<ellipse cx="270.4" cy="350" rx="0.5" ry="0.8" fill="#eee" stroke="none" stroke-width="0" stroke-linecap="butt"/>
<ellipse cx="391" cy="289.6" rx="1.4" ry="1.6" fill="#888" stroke="#262626" stroke-width="0.6" stroke-linecap="butt"/>
<ellipse cx="391.1" cy="292.6" rx="1.4" ry="1.6" fill="#888" stroke="#262626" stroke-width="0.6" stroke-linecap="butt"/>
<ellipse cx="391.1" cy="295.8" rx="1.4" ry="1.6" fill="#888" stroke="#262626" stroke-width="0.6" stroke-linecap="butt"/>
<ellipse cx="391.2" cy="298.9" rx="1.4" ry="1.6" fill="#888" stroke="#262626" stroke-width="0.6" stroke-linecap="butt"/>
<ellipse cx="391.2" cy="301.9" rx="1.4" ry="1.6" fill="#888" stroke="#262626" stroke-width="0.6" stroke-linecap="butt"/>
<ellipse cx="391.3" cy="305.1" rx="1.4" ry="1.6" fill="#888" stroke="#262626" stroke-width="0.6" stroke-linecap="butt"/>
<ellipse cx="391.3" cy="308.1" rx="1.4" ry="1.6" fill="#888" stroke="#262626" stroke-width="0.6" stroke-linecap="butt"/>
<ellipse cx="391.4" cy="311.2" rx="1.4" ry="1.6" fill="#888" stroke="#262626" stroke-width="0.6" stroke-linecap="butt"/>
<ellipse cx="391.4" cy="314.4" rx="1.4" ry="1.6" fill="#888" stroke="#262626" stroke-width="0.6" stroke-linecap="butt"/>
<ellipse cx="391.5" cy="317.4" rx="1.4" ry="1.6" fill="#888" stroke="#262626" stroke-width="0.6" stroke-linecap="butt"/>
<ellipse cx="391.5" cy="320.6" rx="1.4" ry="1.6" fill="#888" stroke="#262626" stroke-width="0.6" stroke-linecap="butt"/>
<ellipse cx="391.6" cy="323.6" rx="1.4" ry="1.6" fill="#888" stroke="#262626" stroke-width="0.6" stroke-linecap="butt"/>
<ellipse cx="391.6" cy="326.8" rx="1.4" ry="1.6" fill="#888" stroke="#262626" stroke-width="0.6" stroke-linecap="butt"/>
<ellipse cx="391.7" cy="329.9" rx="1.4" ry="1.6" fill="#888" stroke="#262626" stroke-width="0.6" stroke-linecap="butt"/>
<ellipse cx="391.7" cy="332.9" rx="1.4" ry="1.6" fill="#888" stroke="#262626" stroke-width="0.6" stroke-linecap="butt"/>
<ellipse cx="391.8" cy="336.1" rx="1.4" ry="1.6" fill="#888" stroke="#262626" stroke-width="0.6" stroke-linecap="butt"/>
<ellipse cx="391.8" cy="339.1" rx="1.4" ry="1.6" fill="#888" stroke="#262626" stroke-width="0.6" stroke-linecap="butt"/>
<ellipse cx="391.9" cy="342.2" rx="1.4" ry="1.6" fill="#888" stroke="#262626" stroke-width="0.6" stroke-linecap="butt"/>
<ellipse cx="391.9" cy="345.4" rx="1.4" ry="1.6" fill="#888" stroke="#262626" stroke-width="0.6" stroke-linecap="butt"/>
<ellipse cx="392" cy="348.4" rx="1.4" ry="1.6" fill="#888" stroke="#262626" stroke-width="0.6" stroke-linecap="butt"/>
<polygon points="373.2,297 378,295.5 378,357 373.2,360" fill="#fff" stroke="#262626" stroke-width="0.6"/>
<polygon points="336.3,286.3 340,285 373.2,297 373.2,360 336.3,360" fill="#fff" stroke="#262626" stroke-width="0.7"/>
<path d="M341 360 V318 Q341 311 348 312 L362 316 Q368 318 368 325 V360 Z" fill="#7c7c7c" stroke="#262626" stroke-width="0.6"/>
<line x1="341.5" y1="316" x2="367.5" y2="318" stroke="#2a2a2a" stroke-width="0.5"/>
<line x1="341.5" y1="319.2" x2="367.5" y2="321.2" stroke="#2a2a2a" stroke-width="0.5"/>
<line x1="341.5" y1="322.4" x2="367.5" y2="324.4" stroke="#2a2a2a" stroke-width="0.5"/>
<line x1="341.5" y1="325.6" x2="367.5" y2="327.6" stroke="#2a2a2a" stroke-width="0.5"/>
<line x1="341.5" y1="328.8" x2="367.5" y2="330.8" stroke="#2a2a2a" stroke-width="0.5"/>
<line x1="341.5" y1="332" x2="367.5" y2="334" stroke="#2a2a2a" stroke-width="0.5"/>
<line x1="341.5" y1="335.2" x2="367.5" y2="337.2" stroke="#2a2a2a" stroke-width="0.5"/>
<line x1="341.5" y1="338.4" x2="367.5" y2="340.4" stroke="#2a2a2a" stroke-width="0.5"/>
<line x1="341.5" y1="341.6" x2="367.5" y2="343.6" stroke="#2a2a2a" stroke-width="0.5"/>
<line x1="341.5" y1="344.8" x2="367.5" y2="346.8" stroke="#2a2a2a" stroke-width="0.5"/>
<line x1="341.5" y1="348" x2="367.5" y2="350" stroke="#2a2a2a" stroke-width="0.5"/>
<line x1="341.5" y1="351.2" x2="367.5" y2="353.2" stroke="#2a2a2a" stroke-width="0.5"/>
<line x1="341.5" y1="354.4" x2="367.5" y2="356.4" stroke="#2a2a2a" stroke-width="0.5"/>
<line x1="341.5" y1="357.6" x2="367.5" y2="359.6" stroke="#2a2a2a" stroke-width="0.5"/>
<polygon points="355.8,337.5 362.6,336 362.6,380 355.8,380" fill="#fff" stroke="#262626" stroke-width="0.6"/>
<polyline points="371.8,361 401.4,349 401.4,338 400,338 400,347.5 372,358.5" fill="none" stroke="#262626" stroke-width="0.6"/>
<polygon points="369.2,241.7 387,247.2 387,288 369.2,283" fill="#fff" stroke="#262626" stroke-width="0.7"/>
<polyline points="367.4,283 369.2,283 387,288.5 387,290" fill="none" stroke="#262626" stroke-width="0.6"/>
<line x1="369.2" y1="283.5" x2="367.4" y2="284.5" stroke="#262626" stroke-width="0.5"/>
<ellipse cx="371.5" cy="255" rx="0.7" ry="0.7" fill="#444" stroke="#262626" stroke-width="0.5" stroke-linecap="butt"/>
<ellipse cx="371.5" cy="274" rx="0.7" ry="0.7" fill="#444" stroke="#262626" stroke-width="0.5" stroke-linecap="butt"/>
<ellipse cx="384.5" cy="259.5" rx="0.7" ry="0.7" fill="#444" stroke="#262626" stroke-width="0.5" stroke-linecap="butt"/>
<ellipse cx="384.5" cy="279" rx="0.7" ry="0.7" fill="#444" stroke="#262626" stroke-width="0.5" stroke-linecap="butt"/>
<ellipse cx="371" cy="243.5" rx="0.8" ry="0.8" fill="none" stroke="#262626" stroke-width="0.4" stroke-linecap="butt"/>
<path d="M384.5 246.5 Q384 243 388 242 L397 240.5 Q401 240.5 402 244 L403 250 L392 254 Z" fill="#fff" stroke="#262626" stroke-width="0.6"/>
<polygon points="392,254 403,250 408,253.4 408,270 397.5,274.3 391.4,272" fill="#fff" stroke="#262626" stroke-width="0.6"/>
<line x1="397.5" y1="256" x2="397.5" y2="274.3" stroke="#262626" stroke-width="0.5"/>
<line x1="392" y1="254" x2="397.5" y2="256" stroke="#262626" stroke-width="0.5"/>
<line x1="397.5" y1="256" x2="408" y2="253.4" stroke="#262626" stroke-width="0.5"/>
<polyline points="386,249 388,263 392,272" fill="none" stroke="#262626" stroke-width="0.5"/>
<polyline points="395.7,274 395.7,286.6 400.6,285 400.6,273" fill="none" stroke="#262626" stroke-width="0.6"/>
<polyline points="394,286.6 396,288 401,286.5" fill="none" stroke="#262626" stroke-width="0.5"/>
<polygon points="122.3,333.8 133,333 133,343 228.5,389 237.7,393 237.7,572 199,551 122.3,520" fill="#fff" stroke="#262626" stroke-width="0.7"/>
<line x1="122.3" y1="333.8" x2="122.3" y2="520" stroke="#262626" stroke-width="0.6"/>
<line x1="133" y1="343" x2="133" y2="525" stroke="#262626" stroke-width="0.5"/>
<line x1="133" y1="343" x2="228.5" y2="389" stroke="#262626" stroke-width="0.6"/>
<line x1="131.5" y1="361.5" x2="228.5" y2="409" stroke="#262626" stroke-width="0.6"/>
<line x1="140.8" y1="366" x2="140.8" y2="430" stroke="#262626" stroke-width="0.5"/>
<polyline points="122.3,333.8 122.3,331.5 130.5,331 130.5,344" fill="none" stroke="#262626" stroke-width="0.5"/>
<polyline points="217.7,389 217.7,395 222,397 222,404 226,406" fill="none" stroke="#262626" stroke-width="0.5"/>
<polyline points="228.5,409 232,406 237.7,408.5" fill="none" stroke="#262626" stroke-width="0.5"/>
<line x1="228.5" y1="389" x2="228.5" y2="568" stroke="#262626" stroke-width="0.5"/>
<line x1="232" y1="391" x2="232" y2="570" stroke="#262626" stroke-width="0.5"/>
<ellipse cx="188" cy="467" rx="42" ry="72" fill="#fff" stroke="#262626" stroke-width="0.7" stroke-linecap="butt" transform="rotate(-9 188 467)"/>
<ellipse cx="191" cy="467" rx="40" ry="70" fill="none" stroke="#262626" stroke-width="0.6" stroke-linecap="butt" transform="rotate(-9 191 467)"/>
<ellipse cx="196" cy="468" rx="38" ry="70" fill="none" stroke="#262626" stroke-width="0.6" stroke-linecap="butt" transform="rotate(-9 196 468)"/>
<path d="M263.6 438.6 C270 432 280 422 284.2 413.6 C287 408 289 402 290 400.3 C294 404 297 420 297.5 438.6 C297 455 292 465 284.2 471 C289 473 293 476 292 480 C284 488 268 491 259 488 C251 483 247 470 246 458 L254.8 450.4 Z" fill="#fff" stroke="#262626" stroke-width="0.6"/>
<path d="M254.8 450.4 C256 465 262 478 276.9 482.8" fill="none" stroke="#262626" stroke-width="0.5"/>
<path d="M249 421.7 C246 405 241 390 239.3 379.5 C239 372 248 370 253.3 372.4 C264 380 272 395 271.7 404.8 C271 418 268 426 262 434.2 Z" fill="#fff" stroke="#262626" stroke-width="0.6"/>
<path d="M256 418 C254 405 250 392 244 381" fill="none" stroke="#262626" stroke-width="0.4"/>
<ellipse cx="251.1" cy="436.5" rx="9" ry="14.7" fill="#fff" stroke="#262626" stroke-width="0.7" stroke-linecap="butt" transform="rotate(-8 251.1 436.5)"/>
<ellipse cx="250.6" cy="436.7" rx="2.4" ry="2.6" fill="#fff" stroke="#262626" stroke-width="0.6" stroke-linecap="butt"/>
<ellipse cx="250.6" cy="436.7" rx="1.1" ry="1.2" fill="none" stroke="#262626" stroke-width="0.5" stroke-linecap="butt"/>
<polygon points="189.2,471.5 197,468.5 197.7,673.8 189.2,679.2" fill="#fff" stroke="#262626" stroke-width="0.7"/>
<line x1="193" y1="470" x2="193.5" y2="676.5" stroke="#262626" stroke-width="0.4"/>
<polygon points="13.8,377.7 13.8,373 18.5,370 193.8,465.4 197,468.5 195.5,469 189.2,471.5" fill="#fff" stroke="#262626" stroke-width="0.7"/>
<line x1="16" y1="374.5" x2="192" y2="468.5" stroke="#262626" stroke-width="0.5"/>
<polygon points="13.8,377.7 189.2,471.5 189,678.5 13.8,555.4" fill="#fff" stroke="#262626" stroke-width="0.7"/>
<line x1="14" y1="381" x2="189" y2="474.5" stroke="#262626" stroke-width="0.5"/>
<polygon points="13.8,383.8 38.7,397.3 38.7,442.8 13.8,428.3" fill="url(#holes4)" stroke="#262626" stroke-width="0.55"/>
<polygon points="13.8,431.3 38.7,445.8 38.7,485.5 13.8,470.2" fill="url(#holes4)" stroke="#262626" stroke-width="0.55"/>
<polygon points="13.8,473.2 38.7,488.6 38.7,528.5 13.8,512.2" fill="url(#holes4)" stroke="#262626" stroke-width="0.55"/>
<polygon points="13.8,515.2 38.7,531.5 38.7,572.6 13.8,555.4" fill="url(#holes4)" stroke="#262626" stroke-width="0.55"/>
<polygon points="41.3,398.8 64.8,411.6 64.8,458 41.3,444.3" fill="url(#holes4)" stroke="#262626" stroke-width="0.55"/>
<polygon points="41.3,447.4 64.8,461.1 64.8,501.7 41.3,487.1" fill="url(#holes4)" stroke="#262626" stroke-width="0.55"/>
<polygon points="41.3,490.2 64.8,504.8 64.8,545.6 41.3,530.2" fill="url(#holes4)" stroke="#262626" stroke-width="0.55"/>
<polygon points="41.3,533.2 64.8,548.7 64.8,590.6 41.3,574.4" fill="url(#holes4)" stroke="#262626" stroke-width="0.55"/>
<polygon points="67.5,413 91,425.8 91,473.2 67.5,459.5" fill="url(#holes4)" stroke="#262626" stroke-width="0.55"/>
<polygon points="67.5,462.7 91,476.4 91,517.9 67.5,503.3" fill="url(#holes4)" stroke="#262626" stroke-width="0.55"/>
<polygon points="67.5,506.5 91,521.1 91,562.7 67.5,547.3" fill="url(#holes4)" stroke="#262626" stroke-width="0.55"/>
<polygon points="67.5,550.4 91,565.9 91,608.7 67.5,592.5" fill="url(#holes4)" stroke="#262626" stroke-width="0.55"/>
<polygon points="93.6,427.3 118.5,440.8 118.5,489.3 93.6,474.8" fill="url(#holes4)" stroke="#262626" stroke-width="0.55"/>
<polygon points="93.6,478 118.5,492.5 118.5,534.9 93.6,519.5" fill="url(#holes4)" stroke="#262626" stroke-width="0.55"/>
<polygon points="93.6,522.7 118.5,538.1 118.5,580.6 93.6,564.4" fill="url(#holes4)" stroke="#262626" stroke-width="0.55"/>
<polygon points="93.6,567.6 118.5,583.9 118.5,627.7 93.6,610.5" fill="url(#holes4)" stroke="#262626" stroke-width="0.55"/>
<line x1="40" y1="401.9" x2="40" y2="441.2" stroke="#777" stroke-width="0.8"/>
<line x1="40" y1="448.9" x2="40" y2="484" stroke="#777" stroke-width="0.8"/>
<line x1="40" y1="491.7" x2="40" y2="527" stroke="#777" stroke-width="0.8"/>
<line x1="40" y1="534.7" x2="40" y2="569.6" stroke="#777" stroke-width="0.8"/>
<line x1="66.2" y1="416.2" x2="66.2" y2="456.4" stroke="#777" stroke-width="0.8"/>
<line x1="66.2" y1="464.3" x2="66.2" y2="500.2" stroke="#777" stroke-width="0.8"/>
<line x1="66.2" y1="508" x2="66.2" y2="544.1" stroke="#777" stroke-width="0.8"/>
<line x1="66.2" y1="551.9" x2="66.2" y2="587.6" stroke="#777" stroke-width="0.8"/>
<line x1="92.3" y1="430.6" x2="92.3" y2="471.6" stroke="#777" stroke-width="0.8"/>
<line x1="92.3" y1="479.6" x2="92.3" y2="516.3" stroke="#777" stroke-width="0.8"/>
<line x1="92.3" y1="524.3" x2="92.3" y2="561.1" stroke="#777" stroke-width="0.8"/>
<line x1="92.3" y1="569.1" x2="92.3" y2="605.6" stroke="#777" stroke-width="0.8"/>
<polygon points="13.8,383.8 118.5,440.8 118.5,627.7 13.8,555.4" fill="none" stroke="#262626" stroke-width="0.6"/>
<ellipse cx="155.4" cy="500.6" rx="11.5" ry="28.5" fill="#fff" stroke="#262626" stroke-width="0.7" stroke-linecap="butt"/>
<line x1="189" y1="678.5" x2="190.5" y2="680.5" stroke="#262626" stroke-width="0.7"/>
<polyline points="291,467 311.7,476.5" fill="none" stroke="#262626" stroke-width="0.6"/>
<polyline points="290,474 311.7,482.6" fill="none" stroke="#262626" stroke-width="0.6"/>
<polyline points="298,424 298,418.5 315.8,410.4 358.8,431" fill="none" stroke="#262626" stroke-width="0.6"/>
<line x1="315.8" y1="410.4" x2="315.8" y2="415.5" stroke="#262626" stroke-width="0.6"/>
<polyline points="298,424 316,417 358,437" fill="none" stroke="#262626" stroke-width="0.6"/>
<polyline points="298.5,431.5 313.7,425.5 356,446" fill="none" stroke="#262626" stroke-width="0.6"/>
<polyline points="298.5,435.5 313.7,430 356,450.5" fill="none" stroke="#262626" stroke-width="0.5"/>
<line x1="298.5" y1="431.5" x2="298.5" y2="435.5" stroke="#262626" stroke-width="0.5"/>
<rect x="309.5" y="428.5" width="2.5" height="1" fill="#333" stroke="#262626" stroke-width="0.4"/>
<rect x="332.5" y="435.5" width="2.5" height="1" fill="#333" stroke="#262626" stroke-width="0.4"/>
<path d="M336.7 447 V418 Q336.7 410 342 408" fill="none" stroke="#262626" stroke-width="0.7"/>
<path d="M341.6 447 V420 Q341.6 414 346 412" fill="none" stroke="#262626" stroke-width="0.7"/>
<polygon points="330.5,446 336.7,444 354,451 354,456.5 348,458.5 330.5,451" fill="#fff" stroke="#262626" stroke-width="0.6"/>
<ellipse cx="336" cy="449.5" rx="0.8" ry="0.6" fill="none" stroke="#262626" stroke-width="0.5" stroke-linecap="butt"/>
<ellipse cx="350" cy="455" rx="0.8" ry="0.6" fill="none" stroke="#262626" stroke-width="0.5" stroke-linecap="butt"/>
<ellipse cx="349" cy="435.5" rx="4.2" ry="2" fill="none" stroke="#262626" stroke-width="0.6" stroke-linecap="butt"/>
<polyline points="357,372 357,461 362,463 362,372" fill="none" stroke="#262626" stroke-width="0.6"/>
<polygon points="333.8,360 355.4,367.7 355.4,400 333.8,392" fill="#fff" stroke="#262626" stroke-width="0.6"/>
<line x1="333.8" y1="364" x2="355.4" y2="371.5" stroke="#262626" stroke-width="0.5"/>
<polygon points="334.6,382 347,377.5 355,384 355,404 347,410 334.6,410" fill="#fff" stroke="#262626" stroke-width="0.6"/>
<ellipse cx="356.5" cy="393" rx="1.2" ry="1.2" fill="#fff" stroke="#262626" stroke-width="0.5" stroke-linecap="butt"/>
<ellipse cx="352.2" cy="404.3" rx="1.2" ry="1.2" fill="#fff" stroke="#262626" stroke-width="0.5" stroke-linecap="butt"/>
<ellipse cx="343.8" cy="404.3" rx="1.2" ry="1.2" fill="#fff" stroke="#262626" stroke-width="0.5" stroke-linecap="butt"/>
<ellipse cx="339.5" cy="393" rx="1.2" ry="1.2" fill="#fff" stroke="#262626" stroke-width="0.5" stroke-linecap="butt"/>
<ellipse cx="343.8" cy="381.7" rx="1.2" ry="1.2" fill="#fff" stroke="#262626" stroke-width="0.5" stroke-linecap="butt"/>
<ellipse cx="352.2" cy="381.7" rx="1.2" ry="1.2" fill="#fff" stroke="#262626" stroke-width="0.5" stroke-linecap="butt"/>
<path d="M347 380 A8.3 13 0 0 1 347 406" fill="none" stroke="#262626" stroke-width="0.6"/>
<ellipse cx="334.6" cy="396" rx="10" ry="14" fill="#fff" stroke="#262626" stroke-width="0.8" stroke-linecap="butt"/>
<ellipse cx="336" cy="396" rx="8" ry="12" fill="none" stroke="#262626" stroke-width="0.5" stroke-linecap="butt"/>
<ellipse cx="336.2" cy="396" rx="5.5" ry="8" fill="none" stroke="#262626" stroke-width="0.6" stroke-linecap="butt"/>
<ellipse cx="336.5" cy="396" rx="2.8" ry="4" fill="none" stroke="#262626" stroke-width="0.6" stroke-linecap="butt"/>
<polygon points="317.7,402.5 329,398.8 329.5,402.8 318.2,406.5" fill="#fff" stroke="#262626" stroke-width="0.6"/>
<ellipse cx="317.9" cy="404.5" rx="0.7" ry="2" fill="#fff" stroke="#262626" stroke-width="0.5" stroke-linecap="butt"/>
<polygon points="366.3,505 412,485 487.6,470 487.6,492 419.7,530.4" fill="#fff" stroke="none" stroke-width="0"/>
<polyline points="366.3,505 419.7,530.4 487.6,492 487.6,486" fill="none" stroke="#262626" stroke-width="0.7"/>
<polyline points="370,505.5 419.7,527.5 484,491.5" fill="none" stroke="#262626" stroke-width="0.5"/>
<polygon points="366.3,505 419.7,530.4 419.7,538.5 366.3,512.5" fill="#fff" stroke="#262626" stroke-width="0.6"/>
<polygon points="419.7,530.4 487.6,492 487.6,499.5 419.7,538.5" fill="#fff" stroke="#262626" stroke-width="0.6"/>
<line x1="419.7" y1="530.4" x2="419.7" y2="538.5" stroke="#262626" stroke-width="1.3"/>
<ellipse cx="424" cy="525" rx="0.7" ry="0.6" fill="none" stroke="#262626" stroke-width="0.5" stroke-linecap="butt"/>
<ellipse cx="427.2" cy="523.2" rx="0.7" ry="0.6" fill="none" stroke="#262626" stroke-width="0.5" stroke-linecap="butt"/>
<ellipse cx="430.4" cy="521.4" rx="0.7" ry="0.6" fill="none" stroke="#262626" stroke-width="0.5" stroke-linecap="butt"/>
<ellipse cx="433.6" cy="519.6" rx="0.7" ry="0.6" fill="none" stroke="#262626" stroke-width="0.5" stroke-linecap="butt"/>
<ellipse cx="436.8" cy="517.8" rx="0.7" ry="0.6" fill="none" stroke="#262626" stroke-width="0.5" stroke-linecap="butt"/>
<polyline points="462,499 466,495.5 470,497" fill="none" stroke="#262626" stroke-width="0.5"/>
<polygon points="372.6,523 380,518 392.5,525 392.5,530 384,535.8 372.6,528" fill="#fff" stroke="#262626" stroke-width="0.6"/>
<ellipse cx="380" cy="529" rx="1.6" ry="1.1" fill="none" stroke="#262626" stroke-width="0.5" stroke-linecap="butt"/>
<polygon points="357.7,399.2 394.3,381.8 441,403 409.7,423.5" fill="#fff" stroke="#262626" stroke-width="0.7"/>
<line x1="364" y1="396" x2="365.4" y2="395.3" stroke="#262626" stroke-width="0.7"/>
<line x1="367" y1="394.6" x2="368.4" y2="393.9" stroke="#262626" stroke-width="0.7"/>
<line x1="370" y1="393.1" x2="371.4" y2="392.4" stroke="#262626" stroke-width="0.7"/>
<line x1="373" y1="391.6" x2="374.4" y2="390.9" stroke="#262626" stroke-width="0.7"/>
<line x1="376" y1="390.2" x2="377.4" y2="389.5" stroke="#262626" stroke-width="0.7"/>
<line x1="379" y1="388.8" x2="380.4" y2="388.1" stroke="#262626" stroke-width="0.7"/>
<line x1="382" y1="387.3" x2="383.4" y2="386.6" stroke="#262626" stroke-width="0.7"/>
<line x1="385" y1="385.9" x2="386.4" y2="385.2" stroke="#262626" stroke-width="0.7"/>
<line x1="388" y1="384.4" x2="389.4" y2="383.7" stroke="#262626" stroke-width="0.7"/>
<line x1="391" y1="382.9" x2="392.4" y2="382.2" stroke="#262626" stroke-width="0.7"/>
<ellipse cx="372" cy="396" rx="2.6" ry="1.4" fill="none" stroke="#262626" stroke-width="0.5" stroke-linecap="butt"/>
<polygon points="409.7,423.5 441,403 441,510 412,528" fill="#fff" stroke="#262626" stroke-width="0.7"/>
<line x1="411.5" y1="424" x2="413.5" y2="527.5" stroke="#262626" stroke-width="0.6"/>
<polyline points="357.7,399.2 357.7,490" fill="none" stroke="#262626" stroke-width="0.6"/>
<line x1="360" y1="401" x2="360" y2="490" stroke="#262626" stroke-width="0.5"/>
<polygon points="369,491 369,504 373,506 377,504 377,491" fill="#fff" stroke="#262626" stroke-width="0.6"/>
<ellipse cx="373" cy="491" rx="4" ry="1.8" fill="#fff" stroke="#262626" stroke-width="0.6" stroke-linecap="butt"/>
<polyline points="371,489 371,486 374,485" fill="none" stroke="#262626" stroke-width="0.5"/>
<path d="M377.1 434.3 Q379 429 390.7 428.5 Q402 429 403.4 434.3 V503 Q398 508 390 508 Q380 507 377.1 503 Z" fill="#fff" stroke="#262626" stroke-width="0.7"/>
<path d="M377.1 436 Q390 441 403.4 436" fill="none" stroke="#262626" stroke-width="0.5"/>
<polygon points="379,421 394.3,420 394.3,432.5 379,432.5" fill="#fff" stroke="#262626" stroke-width="0.6"/>
<polyline points="381,421 381,417 392,417 392,421" fill="none" stroke="#262626" stroke-width="0.5"/>
<line x1="383.5" y1="417" x2="383.5" y2="413.5" stroke="#262626" stroke-width="0.7"/>
<line x1="386.5" y1="417" x2="386.5" y2="413.5" stroke="#262626" stroke-width="0.7"/>
<line x1="389.5" y1="417" x2="389.5" y2="413.5" stroke="#262626" stroke-width="0.7"/>
<line x1="381" y1="425" x2="394" y2="425" stroke="#262626" stroke-width="0.4"/>
<rect x="398.5" y="455" width="3" height="10" fill="#fff" stroke="#262626" stroke-width="0.6"/>
<line x1="400" y1="444" x2="400" y2="505" stroke="#262626" stroke-width="0.5"/>
<line x1="402" y1="440" x2="403.4" y2="505" stroke="#262626" stroke-width="0.5"/>
<polygon points="390.7,502 401.6,501.4 401.6,510.4 390.7,510.4" fill="#fff" stroke="#262626" stroke-width="0.6"/>
<ellipse cx="396" cy="505.5" rx="2.6" ry="2" fill="none" stroke="#262626" stroke-width="0.6" stroke-linecap="butt"/>
<ellipse cx="396" cy="505.5" rx="1.2" ry="0.9" fill="none" stroke="#262626" stroke-width="0.5" stroke-linecap="butt"/>
<polygon points="441,405 441,500 471.6,492 471.6,400" fill="#fff" stroke="#262626" stroke-width="0.7"/>
<path d="M441 421 Q456 423 471.6 414" fill="none" stroke="#262626" stroke-width="0.6"/>
<path d="M441 467 Q456 469 471.6 460" fill="none" stroke="#262626" stroke-width="0.7"/>
<path d="M441 483 Q456 485 471.6 476" fill="none" stroke="#262626" stroke-width="0.7"/>
<path d="M425.2 405 V392 Q426 384 440 382 Q456 380 466 382 Q472 384 472.3 392 V402 Q458 409 441 406 Q430 406 425.2 404 Z" fill="#fff" stroke="#262626" stroke-width="0.7"/>
<path d="M440.5 405.7 Q458 404 472.3 397.4" fill="none" stroke="#262626" stroke-width="1.3"/>
<path d="M425.2 392 Q445 396 472.3 390" fill="none" stroke="#262626" stroke-width="0.5"/>
<polygon points="425.2,400 440.5,396 440.5,417 426,421" fill="#fff" stroke="#262626" stroke-width="0.6"/>
<ellipse cx="427" cy="403" rx="0.6" ry="0.6" fill="none" stroke="#262626" stroke-width="0.5" stroke-linecap="butt"/>
<ellipse cx="438.5" cy="414" rx="0.6" ry="0.6" fill="none" stroke="#262626" stroke-width="0.5" stroke-linecap="butt"/>
<polygon points="471.6,456 478,455 478,480 471.6,479" fill="#fff" stroke="#262626" stroke-width="0.6"/>
<ellipse cx="480.5" cy="467.6" rx="7" ry="13" fill="#fff" stroke="#262626" stroke-width="0.8" stroke-linecap="butt" transform="rotate(-5 480.5 467.6)"/>
<ellipse cx="482" cy="467.6" rx="5.5" ry="11" fill="#fff" stroke="#262626" stroke-width="0.6" stroke-linecap="butt" transform="rotate(-5 482 467.6)"/>
<line x1="486.5" y1="467.6" x2="487.5" y2="467.6" stroke="#262626" stroke-width="0.5"/>
<line x1="484.7" y1="475.7" x2="485.4" y2="476.8" stroke="#262626" stroke-width="0.5"/>
<line x1="480.5" y1="479.1" x2="480.5" y2="480.6" stroke="#262626" stroke-width="0.5"/>
<line x1="476.3" y1="475.7" x2="475.6" y2="476.8" stroke="#262626" stroke-width="0.5"/>
<line x1="474.5" y1="467.6" x2="473.5" y2="467.6" stroke="#262626" stroke-width="0.5"/>
<line x1="476.3" y1="459.5" x2="475.6" y2="458.4" stroke="#262626" stroke-width="0.5"/>
<line x1="480.5" y1="456.1" x2="480.5" y2="454.6" stroke="#262626" stroke-width="0.5"/>
<line x1="484.7" y1="459.5" x2="485.4" y2="458.4" stroke="#262626" stroke-width="0.5"/>
<polygon points="470,363 477,360 482,366 482,378 475,383.5 470,380" fill="#fff" stroke="#262626" stroke-width="0.6"/>
<ellipse cx="479.2" cy="371" rx="8" ry="11.5" fill="#fff" stroke="#262626" stroke-width="0.8" stroke-linecap="butt" transform="rotate(-10 479.2 371)"/>
<ellipse cx="480.5" cy="371" rx="6.5" ry="9.5" fill="#fff" stroke="#262626" stroke-width="0.6" stroke-linecap="butt" transform="rotate(-10 480.5 371)"/>
<line x1="486.2" y1="371" x2="487.2" y2="371" stroke="#262626" stroke-width="0.5"/>
<line x1="484.1" y1="378.1" x2="484.9" y2="379.1" stroke="#262626" stroke-width="0.5"/>
<line x1="479.2" y1="381" x2="479.2" y2="382.5" stroke="#262626" stroke-width="0.5"/>
<line x1="474.3" y1="378.1" x2="473.5" y2="379.1" stroke="#262626" stroke-width="0.5"/>
<line x1="472.2" y1="371" x2="471.2" y2="371" stroke="#262626" stroke-width="0.5"/>
<line x1="474.3" y1="363.9" x2="473.5" y2="362.9" stroke="#262626" stroke-width="0.5"/>
<line x1="479.2" y1="361" x2="479.2" y2="359.5" stroke="#262626" stroke-width="0.5"/>
<line x1="484.1" y1="363.9" x2="484.9" y2="362.9" stroke="#262626" stroke-width="0.5"/>
<path d="M420 376 V323" fill="none" stroke="#262626" stroke-width="4.2"/>
<path d="M420 376 V323" fill="none" stroke="#fff" stroke-width="3.0"/>
<path d="M422 321 Q433 318 434.5 330 V356" fill="none" stroke="#262626" stroke-width="4.0"/>
<path d="M422 321 Q433 318 434.5 330 V356" fill="none" stroke="#fff" stroke-width="2.8"/>
<path d="M411.5 374 V357 Q412 350 418 350 Q424 350 428 356" fill="none" stroke="#262626" stroke-width="3.6"/>
<path d="M411.5 374 V357 Q412 350 418 350 Q424 350 428 356" fill="none" stroke="#fff" stroke-width="2.4000000000000004"/>
<path d="M436.5 358 V343 Q437 334.5 447 334.5 Q457.5 334.5 457.5 344 V358" fill="none" stroke="#262626" stroke-width="4.2"/>
<path d="M436.5 358 V343 Q437 334.5 447 334.5 Q457.5 334.5 457.5 344 V358" fill="none" stroke="#fff" stroke-width="3.0"/>
<path d="M447.7 371 V340" fill="none" stroke="#262626" stroke-width="3.6"/>
<path d="M447.7 371 V340" fill="none" stroke="#fff" stroke-width="2.4000000000000004"/>
<path d="M426 336 Q432 333 438 334" fill="none" stroke="#262626" stroke-width="3.0"/>
<path d="M426 336 Q432 333 438 334" fill="none" stroke="#fff" stroke-width="1.8"/>
<path d="M402 379 L396 368 V356" fill="none" stroke="#262626" stroke-width="2.4"/>
<path d="M402 379 L396 368 V356" fill="none" stroke="#fff" stroke-width="1.2"/>
<polygon points="416.7,316.5 423.3,316.5 423.6,324.5 416.4,324.5" fill="#fff" stroke="#262626" stroke-width="0.7"/>
<line x1="416.6" y1="319.2" x2="423.4" y2="319.2" stroke="#262626" stroke-width="0.5"/>
<line x1="416.6" y1="321.8" x2="423.4" y2="321.8" stroke="#262626" stroke-width="0.5"/>
<polygon points="431.2,353 437.8,353 438.1,361 430.9,361" fill="#fff" stroke="#262626" stroke-width="0.7"/>
<line x1="431.1" y1="355.7" x2="437.9" y2="355.7" stroke="#262626" stroke-width="0.5"/>
<line x1="431.1" y1="358.3" x2="437.9" y2="358.3" stroke="#262626" stroke-width="0.5"/>
<polygon points="454.2,355.5 460.8,355.5 461.1,363.5 453.9,363.5" fill="#fff" stroke="#262626" stroke-width="0.7"/>
<line x1="454.1" y1="358.2" x2="460.9" y2="358.2" stroke="#262626" stroke-width="0.5"/>
<line x1="454.1" y1="360.8" x2="460.9" y2="360.8" stroke="#262626" stroke-width="0.5"/>
<polygon points="429.2,362 435.8,362 436.1,370 428.9,370" fill="#fff" stroke="#262626" stroke-width="0.7"/>
<line x1="429.1" y1="364.7" x2="435.9" y2="364.7" stroke="#262626" stroke-width="0.5"/>
<line x1="429.1" y1="367.3" x2="435.9" y2="367.3" stroke="#262626" stroke-width="0.5"/>
<polygon points="446.3,368 452.9,368 453.2,376 446,376" fill="#fff" stroke="#262626" stroke-width="0.7"/>
<line x1="446.2" y1="370.7" x2="453" y2="370.7" stroke="#262626" stroke-width="0.5"/>
<line x1="446.2" y1="373.3" x2="453" y2="373.3" stroke="#262626" stroke-width="0.5"/>
<polygon points="436.3,374 442.9,374 443.2,382 436,382" fill="#fff" stroke="#262626" stroke-width="0.7"/>
<line x1="436.2" y1="376.7" x2="443" y2="376.7" stroke="#262626" stroke-width="0.5"/>
<line x1="436.2" y1="379.3" x2="443" y2="379.3" stroke="#262626" stroke-width="0.5"/>
<polygon points="414.5,356 434,362 434,368 414.5,362" fill="#fff" stroke="#262626" stroke-width="0.6"/>
<polygon points="401,311.5 405,310 407,313 411,312 415,314 415,386 404,391 401,386" fill="none" stroke="#262626" stroke-width="0.6"/>
<polyline points="396,364 396,358 398,356 398,352" fill="none" stroke="#262626" stroke-width="0.5"/>
<ellipse cx="396" cy="366" rx="1.2" ry="1.5" fill="none" stroke="#262626" stroke-width="0.5" stroke-linecap="butt"/>
<rect x="415.5" y="375" width="3" height="4" fill="#333" stroke="#262626" stroke-width="0.5"/>
<polygon points="310.8,458.5 313,457.5 363,481.5 363.5,592.5 312.3,563" fill="#fff" stroke="#262626" stroke-width="0.7"/>
<polygon points="363,481.5 366,480.5 366.3,591 363.5,592.5" fill="#fff" stroke="#262626" stroke-width="0.7"/>
<polyline points="356,589 358,587.5 360,590" fill="none" stroke="#262626" stroke-width="0.5"/>
<line x1="313" y1="459.5" x2="363" y2="483" stroke="#262626" stroke-width="0.5"/>
<ellipse cx="357.5" cy="590" rx="0.6" ry="0.6" fill="none" stroke="#262626" stroke-width="0.5" stroke-linecap="butt"/>
<polyline points="310.8,470 312.5,470 312.5,473.5 311,473.5" fill="none" stroke="#262626" stroke-width="0.5"/>
<polyline points="311.5,565 313.5,565.5 313.5,568" fill="none" stroke="#262626" stroke-width="0.5"/>
<polygon points="519.3,391 543,379 543,394 519.3,406" fill="#fff" stroke="#262626" stroke-width="0.6"/>
<polygon points="522.5,393.5 537,386.5 537,390.5 522.5,397.5" fill="#fff" stroke="#262626" stroke-width="0.5"/>
<ellipse cx="520.8" cy="392.2" rx="0.6" ry="0.6" fill="none" stroke="#262626" stroke-width="0.4" stroke-linecap="butt"/>
<ellipse cx="541.5" cy="381" rx="0.6" ry="0.6" fill="none" stroke="#262626" stroke-width="0.4" stroke-linecap="butt"/>
<polygon points="519.3,406 543,394 543,442 519.3,455" fill="#fff" stroke="#262626" stroke-width="0.6"/>
<line x1="532.4" y1="400.5" x2="532.4" y2="447" stroke="#262626" stroke-width="0.5"/>
<polyline points="519.3,447 532.4,441" fill="none" stroke="#262626" stroke-width="0.5"/>
<polygon points="508,401.8 513,399 519.3,401 519.3,406" fill="#fff" stroke="#262626" stroke-width="0.6"/>
<polygon points="508,401.8 519.3,406 519.3,456 508,451" fill="#fff" stroke="#262626" stroke-width="0.7"/>
<rect x="518.2" y="406.5" width="1.3" height="49" fill="#999" stroke="#262626" stroke-width="0.3"/>
<ellipse cx="525.7" cy="422.5" rx="1.2" ry="1.5" fill="#333" stroke="#262626" stroke-width="0.5" stroke-linecap="butt"/>
<ellipse cx="519" cy="421" rx="0.7" ry="1.2" fill="none" stroke="#262626" stroke-width="0.5" stroke-linecap="butt"/>
<ellipse cx="519" cy="428" rx="0.7" ry="1.2" fill="none" stroke="#262626" stroke-width="0.5" stroke-linecap="butt"/>
<ellipse cx="528" cy="438" rx="0.6" ry="0.6" fill="none" stroke="#262626" stroke-width="0.5" stroke-linecap="butt"/>
<line x1="519.3" y1="455.5" x2="543" y2="443" stroke="#262626" stroke-width="0.5"/>
<polygon points="537.3,411.5 566,397.2 567.3,450.8 539.6,469.2" fill="#fff" stroke="#262626" stroke-width="0.7"/>
<polyline points="539.3,412.5 541.5,467.5" fill="none" stroke="#262626" stroke-width="0.5"/>
<ellipse cx="540.5" cy="415" rx="0.6" ry="0.6" fill="none" stroke="#262626" stroke-width="0.5" stroke-linecap="butt"/>
<ellipse cx="564" cy="402" rx="0.6" ry="0.6" fill="none" stroke="#262626" stroke-width="0.5" stroke-linecap="butt"/>
<ellipse cx="565" cy="446" rx="0.6" ry="0.6" fill="none" stroke="#262626" stroke-width="0.5" stroke-linecap="butt"/>
<ellipse cx="541.5" cy="464" rx="0.6" ry="0.6" fill="none" stroke="#262626" stroke-width="0.5" stroke-linecap="butt"/>
<polygon points="567.3,424.2 627.3,389.6 627.8,569 568.5,610.8" fill="#fff" stroke="#262626" stroke-width="0.7"/>
<polygon points="567.3,424.2 569.6,423 570.8,609.5 568.5,610.8" fill="#fff" stroke="#262626" stroke-width="0.6"/>
<line x1="569" y1="424" x2="627.5" y2="390.5" stroke="#262626" stroke-width="0.5"/>
<polyline points="568,502.8 565,503.3 564.5,505 564.5,509 568,509.5" fill="none" stroke="#262626" stroke-width="0.6"/>
<polygon points="575.5,409 588,403.5 589,409 576.5,414.5" fill="#fff" stroke="#262626" stroke-width="0.6"/>
<polyline points="575.5,409 575.5,406 578,405 578,408" fill="none" stroke="#262626" stroke-width="0.5"/>
<line x1="577" y1="411.5" x2="588.5" y2="406.3" stroke="#262626" stroke-width="0.4"/>
<polygon points="595.5,398 619,386.5 620,392 596.5,404" fill="#fff" stroke="#262626" stroke-width="0.6"/>
<polyline points="595.5,398 595.5,395 598,394 598,397" fill="none" stroke="#262626" stroke-width="0.5"/>
<line x1="597" y1="401" x2="619.5" y2="389.5" stroke="#262626" stroke-width="0.4"/>
<polyline points="548,370 548,385 565,391 565,376" fill="none" stroke="#262626" stroke-width="0.5"/>
<polygon points="587.7,208.7 597.7,203.7 603.7,214.7 593.7,220.7" fill="#fff" stroke="#262626" stroke-width="0.6"/>
<ellipse cx="591.7" cy="213.7" rx="4.5" ry="6.5" fill="#fff" stroke="#262626" stroke-width="0.6" stroke-linecap="butt" transform="rotate(-25 591.7 213.7)"/>
<ellipse cx="593.9" cy="212.6" rx="4.5" ry="6.5" fill="#fff" stroke="#262626" stroke-width="0.6" stroke-linecap="butt" transform="rotate(-25 593.9 212.6)"/>
<ellipse cx="596.1" cy="211.5" rx="4.5" ry="6.5" fill="#fff" stroke="#262626" stroke-width="0.6" stroke-linecap="butt" transform="rotate(-25 596.1 211.5)"/>
<ellipse cx="598.3" cy="210.4" rx="4.5" ry="6.5" fill="#fff" stroke="#262626" stroke-width="0.6" stroke-linecap="butt" transform="rotate(-25 598.3 210.4)"/>
<ellipse cx="600.5" cy="209.3" rx="4.5" ry="6.5" fill="#fff" stroke="#262626" stroke-width="0.6" stroke-linecap="butt" transform="rotate(-25 600.5 209.3)"/>
<ellipse cx="609.7" cy="201.7" rx="9" ry="11" fill="#fff" stroke="#262626" stroke-width="0.7" stroke-linecap="butt" transform="rotate(-25 609.7 201.7)"/>
<polygon points="599.7,207.7 607.7,191.7 617.7,196.7 610.7,212.7" fill="#fff" stroke="#262626" stroke-width="0.0"/>
<ellipse cx="602.7" cy="205.7" rx="8" ry="10.5" fill="#fff" stroke="#262626" stroke-width="0.7" stroke-linecap="butt" transform="rotate(-25 602.7 205.7)"/>
<ellipse cx="602.7" cy="205.7" rx="5.5" ry="7.5" fill="#444" stroke="#262626" stroke-width="0.6" stroke-linecap="butt" transform="rotate(-25 602.7 205.7)"/>
<ellipse cx="602.7" cy="205.7" rx="4" ry="6" fill="#fff" stroke="#262626" stroke-width="0.5" stroke-linecap="butt" transform="rotate(-25 602.7 205.7)"/>
<line x1="612.6" y1="191.8" x2="609.6" y2="193.3" stroke="#262626" stroke-width="0.6"/>
<line x1="616" y1="194.7" x2="613" y2="196.2" stroke="#262626" stroke-width="0.6"/>
<line x1="617.9" y1="199.2" x2="614.9" y2="200.7" stroke="#262626" stroke-width="0.6"/>
<line x1="617.9" y1="204.2" x2="614.9" y2="205.7" stroke="#262626" stroke-width="0.6"/>
<line x1="616" y1="208.7" x2="613" y2="210.2" stroke="#262626" stroke-width="0.6"/>
<line x1="612.6" y1="211.6" x2="609.6" y2="213.1" stroke="#262626" stroke-width="0.6"/>
<line x1="599.7" y1="195.7" x2="607.7" y2="191.7" stroke="#262626" stroke-width="0.6"/>
<line x1="605.7" y1="215.7" x2="616.7" y2="209.7" stroke="#262626" stroke-width="0.6"/>
<ellipse cx="583.7" cy="215.7" rx="6.8" ry="8.8" fill="#fff" stroke="#262626" stroke-width="0.8" stroke-linecap="butt" transform="rotate(-15 583.7 215.7)"/>
<ellipse cx="584.2" cy="215.7" rx="5" ry="6.8" fill="#fff" stroke="#262626" stroke-width="0.7" stroke-linecap="butt" transform="rotate(-15 584.2 215.7)"/>
<polygon points="610.3,364.4 619.8,359.6 625.5,370.1 616,375.8" fill="#fff" stroke="#262626" stroke-width="0.6"/>
<ellipse cx="614.1" cy="369.1" rx="4.3" ry="6.2" fill="#fff" stroke="#262626" stroke-width="0.6" stroke-linecap="butt" transform="rotate(-25 614.1 369.1)"/>
<ellipse cx="616.2" cy="368.1" rx="4.3" ry="6.2" fill="#fff" stroke="#262626" stroke-width="0.6" stroke-linecap="butt" transform="rotate(-25 616.2 368.1)"/>
<ellipse cx="618.3" cy="367" rx="4.3" ry="6.2" fill="#fff" stroke="#262626" stroke-width="0.6" stroke-linecap="butt" transform="rotate(-25 618.3 367)"/>
<ellipse cx="620.4" cy="366" rx="4.3" ry="6.2" fill="#fff" stroke="#262626" stroke-width="0.6" stroke-linecap="butt" transform="rotate(-25 620.4 366)"/>
<ellipse cx="622.5" cy="364.9" rx="4.3" ry="6.2" fill="#fff" stroke="#262626" stroke-width="0.6" stroke-linecap="butt" transform="rotate(-25 622.5 364.9)"/>
<ellipse cx="631.2" cy="357.7" rx="8.5" ry="10.4" fill="#fff" stroke="#262626" stroke-width="0.7" stroke-linecap="butt" transform="rotate(-25 631.2 357.7)"/>
<polygon points="621.7,363.4 629.3,348.2 638.8,352.9 632.1,368.1" fill="#fff" stroke="#262626" stroke-width="0.0"/>
<ellipse cx="624.5" cy="361.5" rx="7.6" ry="10" fill="#fff" stroke="#262626" stroke-width="0.7" stroke-linecap="butt" transform="rotate(-25 624.5 361.5)"/>
<ellipse cx="624.5" cy="361.5" rx="5.2" ry="7.1" fill="#444" stroke="#262626" stroke-width="0.6" stroke-linecap="butt" transform="rotate(-25 624.5 361.5)"/>
<ellipse cx="624.5" cy="361.5" rx="3.8" ry="5.7" fill="#fff" stroke="#262626" stroke-width="0.5" stroke-linecap="butt" transform="rotate(-25 624.5 361.5)"/>
<line x1="634" y1="348.3" x2="631.1" y2="349.8" stroke="#262626" stroke-width="0.6"/>
<line x1="637.2" y1="351" x2="634.4" y2="352.5" stroke="#262626" stroke-width="0.6"/>
<line x1="639" y1="355.3" x2="636.2" y2="356.7" stroke="#262626" stroke-width="0.6"/>
<line x1="639" y1="360.1" x2="636.2" y2="361.5" stroke="#262626" stroke-width="0.6"/>
<line x1="637.2" y1="364.4" x2="634.4" y2="365.8" stroke="#262626" stroke-width="0.6"/>
<line x1="634" y1="367.1" x2="631.1" y2="368.5" stroke="#262626" stroke-width="0.6"/>
<line x1="621.7" y1="352" x2="629.3" y2="348.2" stroke="#262626" stroke-width="0.6"/>
<line x1="627.4" y1="371" x2="637.9" y2="365.3" stroke="#262626" stroke-width="0.6"/>
<ellipse cx="606.5" cy="371" rx="6.5" ry="8.4" fill="#fff" stroke="#262626" stroke-width="0.8" stroke-linecap="butt" transform="rotate(-15 606.5 371)"/>
<ellipse cx="607" cy="371" rx="4.8" ry="6.5" fill="#fff" stroke="#262626" stroke-width="0.7" stroke-linecap="butt" transform="rotate(-15 607 371)"/>
<polyline points="44.3,830.2 44.3,718.5 314,718.5 314,835.8 39.2,835.8 39.2,724.4 319,724.4 319,830.2 44.3,830.2" fill="none" stroke="#262626" stroke-width="0.7"/>
<rect x="70.4" y="727.7" width="158.8" height="97.6" fill="none" stroke="#262626" stroke-width="1.2"/>
<rect x="75" y="733.5" width="150" height="86.5" fill="none" stroke="#262626" stroke-width="0.6"/>
<ellipse cx="73.6" cy="730.8" rx="1.4" ry="1.4" fill="none" stroke="#262626" stroke-width="0.55" stroke-linecap="butt"/>
<ellipse cx="73.6" cy="821.8" rx="1.4" ry="1.4" fill="none" stroke="#262626" stroke-width="0.55" stroke-linecap="butt"/>
<ellipse cx="226.2" cy="730.8" rx="1.4" ry="1.4" fill="none" stroke="#262626" stroke-width="0.55" stroke-linecap="butt"/>
<ellipse cx="226.2" cy="821.8" rx="1.4" ry="1.4" fill="none" stroke="#262626" stroke-width="0.55" stroke-linecap="butt"/>
<ellipse cx="97.3" cy="748.5" rx="11.5" ry="11.5" fill="none" stroke="#262626" stroke-width="0.7" stroke-linecap="butt"/>
<ellipse cx="97.3" cy="748.5" rx="9.7" ry="9.7" fill="none" stroke="#262626" stroke-width="0.7" stroke-linecap="butt"/>
<ellipse cx="122.7" cy="748.5" rx="11.5" ry="11.5" fill="none" stroke="#262626" stroke-width="0.7" stroke-linecap="butt"/>
<ellipse cx="122.7" cy="748.5" rx="9.7" ry="9.7" fill="none" stroke="#262626" stroke-width="0.7" stroke-linecap="butt"/>
<rect x="78" y="745" width="3.6" height="17.7" fill="none" stroke="#262626" stroke-width="0.55"/>
<line x1="78" y1="751.5" x2="81.6" y2="751.5" stroke="#262626" stroke-width="0.55"/>
<rect x="78" y="772" width="3.6" height="8.4" fill="none" stroke="#262626" stroke-width="0.55"/>
<rect x="108.4" y="762" width="14.3" height="4.8" fill="none" stroke="#262626" stroke-width="0.55"/>
<ellipse cx="126.8" cy="763.8" rx="1.7" ry="1.7" fill="#888" stroke="#262626" stroke-width="0.55" stroke-linecap="butt"/>
<ellipse cx="140.7" cy="762" rx="2.5" ry="2.5" fill="none" stroke="#262626" stroke-width="0.55" stroke-linecap="butt"/>
<ellipse cx="140.7" cy="762" rx="1.2" ry="1.2" fill="none" stroke="#262626" stroke-width="0.55" stroke-linecap="butt"/>
<rect x="130.4" y="766" width="3.1" height="5.5" fill="none" stroke="#262626" stroke-width="0.55"/>
<ellipse cx="142.6" cy="742" rx="3.8" ry="0.9" fill="none" stroke="#262626" stroke-width="0.55" stroke-linecap="butt"/>
<rect x="151.5" y="745" width="10" height="11.5" fill="none" stroke="#262626" stroke-width="0.55"/>
<line x1="154.8" y1="745" x2="154.8" y2="756.5" stroke="#262626" stroke-width="0.55"/>
<line x1="158.2" y1="745" x2="158.2" y2="756.5" stroke="#262626" stroke-width="0.55"/>
<polyline points="84.2,772 84.2,790.4 97,790.4 97,788 102.7,788 102.7,774 94,774 94,772 84.2,772" fill="none" stroke="#262626" stroke-width="0.55"/>
<rect x="84.2" y="769.6" width="9.8" height="4.4" fill="none" stroke="#262626" stroke-width="0.55"/>
<ellipse cx="95.8" cy="768.5" rx="2" ry="2" fill="none" stroke="#262626" stroke-width="0.55" stroke-linecap="butt"/>
<ellipse cx="111" cy="777" rx="5.7" ry="5.7" fill="none" stroke="#262626" stroke-width="0.55" stroke-linecap="butt"/>
<ellipse cx="111" cy="777" rx="4.2" ry="4.2" fill="none" stroke="#262626" stroke-width="0.55" stroke-linecap="butt"/>
<line x1="107" y1="777" x2="115" y2="777" stroke="#262626" stroke-width="0.55"/>
<line x1="111" y1="773" x2="111" y2="781" stroke="#262626" stroke-width="0.55"/>
<ellipse cx="128.8" cy="777.3" rx="2.5" ry="2.5" fill="none" stroke="#262626" stroke-width="0.55" stroke-linecap="butt"/>
<ellipse cx="128.8" cy="777.3" rx="1.2" ry="1.2" fill="#666" stroke="#262626" stroke-width="0.55" stroke-linecap="butt"/>
<ellipse cx="138.8" cy="777.3" rx="2" ry="2" fill="none" stroke="#262626" stroke-width="0.55" stroke-linecap="butt"/>
<ellipse cx="138.8" cy="777.3" rx="1" ry="1" fill="#666" stroke="#262626" stroke-width="0.55" stroke-linecap="butt"/>
<ellipse cx="149.6" cy="779.6" rx="2.2" ry="2.2" fill="none" stroke="#262626" stroke-width="0.55" stroke-linecap="butt"/>
<ellipse cx="149.6" cy="779.6" rx="1" ry="1" fill="#666" stroke="#262626" stroke-width="0.55" stroke-linecap="butt"/>
<ellipse cx="112.7" cy="789.6" rx="2.8" ry="2.8" fill="none" stroke="#262626" stroke-width="0.55" stroke-linecap="butt"/>
<line x1="110.5" y1="789.6" x2="114.9" y2="789.6" stroke="#262626" stroke-width="0.55"/>
<line x1="112.7" y1="787.4" x2="112.7" y2="791.8" stroke="#262626" stroke-width="0.55"/>
<rect x="122.2" y="787.3" width="14.3" height="12.3" fill="none" stroke="#262626" stroke-width="0.55"/>
<ellipse cx="129.3" cy="793.4" rx="4" ry="4" fill="none" stroke="#262626" stroke-width="0.55" stroke-linecap="butt"/>
<rect x="147.3" y="788" width="9.2" height="4.7" fill="none" stroke="#262626" stroke-width="0.55"/>
<rect x="84.2" y="791.5" width="9" height="8.9" fill="none" stroke="#262626" stroke-width="0.55"/>
<ellipse cx="88.7" cy="796" rx="2.8" ry="2.8" fill="none" stroke="#262626" stroke-width="0.55" stroke-linecap="butt"/>
<rect x="95" y="797.3" width="7.7" height="13.7" fill="none" stroke="#262626" stroke-width="0.55"/>
<rect x="106.2" y="802.2" width="9.6" height="4" fill="none" stroke="#262626" stroke-width="0.55"/>
<rect x="104.2" y="808.5" width="9.3" height="5" fill="none" stroke="#262626" stroke-width="0.55"/>
<rect x="128" y="802" width="4.7" height="13.8" fill="none" stroke="#262626" stroke-width="0.55"/>
<rect x="139.6" y="800.4" width="6.9" height="12.3" fill="none" stroke="#262626" stroke-width="0.55"/>
<rect x="85" y="803.5" width="8.5" height="3.5" fill="none" stroke="#262626" stroke-width="0.55"/>
<polyline points="89,807 89,812 88,813" fill="none" stroke="#262626" stroke-width="0.55"/>
<ellipse cx="87.5" cy="813" rx="1" ry="1" fill="#333" stroke="#262626" stroke-width="0.55" stroke-linecap="butt"/>
<rect x="148.5" y="802.7" width="7.7" height="11.5" fill="none" stroke="#262626" stroke-width="0.55"/>
<rect x="156.2" y="802.7" width="7.7" height="11.5" fill="none" stroke="#262626" stroke-width="0.55"/>
<rect x="163.9" y="802.7" width="7.7" height="11.5" fill="none" stroke="#262626" stroke-width="0.55"/>
<rect x="171.6" y="802.7" width="7.7" height="11.5" fill="none" stroke="#262626" stroke-width="0.55"/>
<rect x="179.3" y="802.7" width="7.7" height="11.5" fill="none" stroke="#262626" stroke-width="0.55"/>
<rect x="187" y="802.7" width="7.7" height="11.5" fill="none" stroke="#262626" stroke-width="0.55"/>
<rect x="197" y="798.8" width="13.8" height="17" fill="none" stroke="#262626" stroke-width="0.55"/>
<rect x="193" y="792.7" width="9.3" height="4.6" fill="none" stroke="#262626" stroke-width="0.55"/>
<rect x="168.5" y="740.4" width="36.1" height="3.8" fill="none" stroke="#262626" stroke-width="0.55"/>
<line x1="171.9" y1="740.4" x2="171.9" y2="744.2" stroke="#262626" stroke-width="0.55"/>
<ellipse cx="170" cy="746" rx="1.1" ry="1.1" fill="#555" stroke="#262626" stroke-width="0.55" stroke-linecap="butt"/>
<line x1="175.8" y1="740.4" x2="175.8" y2="744.2" stroke="#262626" stroke-width="0.55"/>
<ellipse cx="173.9" cy="746" rx="1.1" ry="1.1" fill="#555" stroke="#262626" stroke-width="0.55" stroke-linecap="butt"/>
<line x1="179.8" y1="740.4" x2="179.8" y2="744.2" stroke="#262626" stroke-width="0.55"/>
<ellipse cx="177.9" cy="746" rx="1.1" ry="1.1" fill="#555" stroke="#262626" stroke-width="0.55" stroke-linecap="butt"/>
<line x1="183.7" y1="740.4" x2="183.7" y2="744.2" stroke="#262626" stroke-width="0.55"/>
<ellipse cx="181.8" cy="746" rx="1.1" ry="1.1" fill="#555" stroke="#262626" stroke-width="0.55" stroke-linecap="butt"/>
<line x1="187.7" y1="740.4" x2="187.7" y2="744.2" stroke="#262626" stroke-width="0.55"/>
<ellipse cx="185.8" cy="746" rx="1.1" ry="1.1" fill="#555" stroke="#262626" stroke-width="0.55" stroke-linecap="butt"/>
<line x1="191.6" y1="740.4" x2="191.6" y2="744.2" stroke="#262626" stroke-width="0.55"/>
<ellipse cx="189.7" cy="746" rx="1.1" ry="1.1" fill="#555" stroke="#262626" stroke-width="0.55" stroke-linecap="butt"/>
<line x1="195.5" y1="740.4" x2="195.5" y2="744.2" stroke="#262626" stroke-width="0.55"/>
<ellipse cx="193.6" cy="746" rx="1.1" ry="1.1" fill="#555" stroke="#262626" stroke-width="0.55" stroke-linecap="butt"/>
<line x1="199.5" y1="740.4" x2="199.5" y2="744.2" stroke="#262626" stroke-width="0.55"/>
<ellipse cx="197.6" cy="746" rx="1.1" ry="1.1" fill="#555" stroke="#262626" stroke-width="0.55" stroke-linecap="butt"/>
<line x1="203.4" y1="740.4" x2="203.4" y2="744.2" stroke="#262626" stroke-width="0.55"/>
<ellipse cx="201.5" cy="746" rx="1.1" ry="1.1" fill="#555" stroke="#262626" stroke-width="0.55" stroke-linecap="butt"/>
<rect x="164.6" y="749.6" width="2.4" height="7.7" fill="none" stroke="#262626" stroke-width="0.55"/>
<ellipse cx="173.8" cy="753.5" rx="2" ry="2" fill="none" stroke="#262626" stroke-width="0.55" stroke-linecap="butt"/>
<ellipse cx="173.8" cy="769.6" rx="2" ry="2" fill="none" stroke="#262626" stroke-width="0.55" stroke-linecap="butt"/>
<ellipse cx="186" cy="767.3" rx="2" ry="2" fill="none" stroke="#262626" stroke-width="0.55" stroke-linecap="butt"/>
<rect x="170" y="759.5" width="8.5" height="4" fill="none" stroke="#262626" stroke-width="0.55"/>
<line x1="171.5" y1="757.5" x2="171.5" y2="765.5" stroke="#262626" stroke-width="0.7"/>
<line x1="174.2" y1="757.5" x2="174.2" y2="765.5" stroke="#262626" stroke-width="0.7"/>
<line x1="177" y1="757.5" x2="177" y2="765.5" stroke="#262626" stroke-width="0.7"/>
<rect x="163.8" y="765.8" width="3.9" height="14.6" fill="#555" stroke="#262626" stroke-width="0.55"/>
<rect x="156" y="767" width="4" height="2.8" fill="none" stroke="#262626" stroke-width="0.55"/>
<rect x="156" y="771" width="4" height="2.8" fill="none" stroke="#262626" stroke-width="0.55"/>
<rect x="156" y="775" width="4" height="2.8" fill="none" stroke="#262626" stroke-width="0.55"/>
<rect x="156" y="779" width="4" height="2.8" fill="none" stroke="#262626" stroke-width="0.55"/>
<rect x="180.8" y="773.5" width="8.4" height="8.5" fill="none" stroke="#262626" stroke-width="0.9"/>
<rect x="182.3" y="775" width="5.4" height="5.5" fill="#555" stroke="#262626" stroke-width="0.4"/>
<rect x="189.2" y="753.5" width="5.4" height="6.9" fill="none" stroke="#262626" stroke-width="0.55"/>
<line x1="191.9" y1="753.5" x2="191.9" y2="760.4" stroke="#262626" stroke-width="0.55"/>
<rect x="197.7" y="762.7" width="6.9" height="6.1" fill="none" stroke="#262626" stroke-width="0.55"/>
<line x1="197.7" y1="765.7" x2="204.6" y2="765.7" stroke="#262626" stroke-width="0.55"/>
<rect x="202.3" y="770.4" width="5.4" height="6.9" fill="none" stroke="#262626" stroke-width="0.55"/>
<line x1="205" y1="770.4" x2="205" y2="777.3" stroke="#262626" stroke-width="0.55"/>
<rect x="214.6" y="763.5" width="4.6" height="18.5" fill="#666" stroke="#262626" stroke-width="0.55"/>
<line x1="214.6" y1="767" x2="219.2" y2="767" stroke="#fff" stroke-width="0.5"/>
<line x1="214.6" y1="771.5" x2="219.2" y2="771.5" stroke="#fff" stroke-width="0.5"/>
<line x1="214.6" y1="776" x2="219.2" y2="776" stroke="#fff" stroke-width="0.5"/>
<rect x="214.6" y="745" width="3.9" height="9.2" fill="none" stroke="#262626" stroke-width="0.55"/>
<rect x="215.4" y="786.5" width="3.8" height="13.1" fill="none" stroke="#262626" stroke-width="0.55"/>
<line x1="215.4" y1="793" x2="219.2" y2="793" stroke="#262626" stroke-width="0.55"/>
<rect x="166" y="787.8" width="6.5" height="4.5" fill="#888" stroke="#262626" stroke-width="0.55"/>
<rect x="177.5" y="787.8" width="6.5" height="4.5" fill="#888" stroke="#262626" stroke-width="0.55"/>
<rect x="182.3" y="787.8" width="6.5" height="4.5" fill="#888" stroke="#262626" stroke-width="0.55"/>
<rect x="173.5" y="788.7" width="3.5" height="2.8" fill="none" stroke="#262626" stroke-width="0.55"/>
<rect x="147" y="788" width="10" height="4.7" fill="none" stroke="#262626" stroke-width="0.55"/>
<rect x="140" y="800.4" width="7" height="12.3" fill="none" stroke="#262626" stroke-width="0.55"/>
<rect x="249.3" y="735.2" width="48.7" height="81.8" fill="none" stroke="#262626" stroke-width="0.7"/>
<ellipse cx="254.2" cy="739.4" rx="1.8" ry="1.8" fill="none" stroke="#262626" stroke-width="0.5" stroke-linecap="butt"/>
<line x1="252.4" y1="739.4" x2="256" y2="739.4" stroke="#262626" stroke-width="0.4"/>
<line x1="254.2" y1="737.6" x2="254.2" y2="741.2" stroke="#262626" stroke-width="0.4"/>
<ellipse cx="292.6" cy="739.4" rx="1.8" ry="1.8" fill="none" stroke="#262626" stroke-width="0.5" stroke-linecap="butt"/>
<line x1="290.8" y1="739.4" x2="294.4" y2="739.4" stroke="#262626" stroke-width="0.4"/>
<line x1="292.6" y1="737.6" x2="292.6" y2="741.2" stroke="#262626" stroke-width="0.4"/>
<ellipse cx="254.2" cy="776.3" rx="1.8" ry="1.8" fill="none" stroke="#262626" stroke-width="0.5" stroke-linecap="butt"/>
<line x1="252.4" y1="776.3" x2="256" y2="776.3" stroke="#262626" stroke-width="0.4"/>
<line x1="254.2" y1="774.5" x2="254.2" y2="778.1" stroke="#262626" stroke-width="0.4"/>
<ellipse cx="292.6" cy="776.3" rx="1.8" ry="1.8" fill="none" stroke="#262626" stroke-width="0.5" stroke-linecap="butt"/>
<line x1="290.8" y1="776.3" x2="294.4" y2="776.3" stroke="#262626" stroke-width="0.4"/>
<line x1="292.6" y1="774.5" x2="292.6" y2="778.1" stroke="#262626" stroke-width="0.4"/>
<ellipse cx="254.2" cy="813.2" rx="1.8" ry="1.8" fill="none" stroke="#262626" stroke-width="0.5" stroke-linecap="butt"/>
<line x1="252.4" y1="813.2" x2="256" y2="813.2" stroke="#262626" stroke-width="0.4"/>
<line x1="254.2" y1="811.4" x2="254.2" y2="815" stroke="#262626" stroke-width="0.4"/>
<ellipse cx="292.6" cy="813.2" rx="1.8" ry="1.8" fill="none" stroke="#262626" stroke-width="0.5" stroke-linecap="butt"/>
<line x1="290.8" y1="813.2" x2="294.4" y2="813.2" stroke="#262626" stroke-width="0.4"/>
<line x1="292.6" y1="811.4" x2="292.6" y2="815" stroke="#262626" stroke-width="0.4"/>
<rect x="264.8" y="741.4" width="17.9" height="6.4" fill="none" stroke="#262626" stroke-width="0.5"/>
<rect x="262.3" y="751.7" width="22.9" height="12.8" fill="#fff" stroke="#262626" stroke-width="0.6"/>
<rect x="263.5" y="752.9" width="20.5" height="10.4" fill="#fff" stroke="#262626" stroke-width="0.5"/>
<line x1="264.1" y1="753.5" x2="264.1" y2="762.7" stroke="#333" stroke-width="0.55"/>
<line x1="265.2" y1="753.5" x2="265.2" y2="762.7" stroke="#333" stroke-width="0.55"/>
<line x1="266.3" y1="753.5" x2="266.3" y2="762.7" stroke="#333" stroke-width="0.55"/>
<line x1="267.4" y1="753.5" x2="267.4" y2="762.7" stroke="#333" stroke-width="0.55"/>
<line x1="268.5" y1="753.5" x2="268.5" y2="762.7" stroke="#333" stroke-width="0.55"/>
<line x1="269.6" y1="753.5" x2="269.6" y2="762.7" stroke="#333" stroke-width="0.55"/>
<line x1="270.7" y1="753.5" x2="270.7" y2="762.7" stroke="#333" stroke-width="0.55"/>
<line x1="271.8" y1="753.5" x2="271.8" y2="762.7" stroke="#333" stroke-width="0.55"/>
<line x1="272.9" y1="753.5" x2="272.9" y2="762.7" stroke="#333" stroke-width="0.55"/>
<line x1="274" y1="753.5" x2="274" y2="762.7" stroke="#333" stroke-width="0.55"/>
<line x1="275.1" y1="753.5" x2="275.1" y2="762.7" stroke="#333" stroke-width="0.55"/>
<line x1="276.2" y1="753.5" x2="276.2" y2="762.7" stroke="#333" stroke-width="0.55"/>
<line x1="277.3" y1="753.5" x2="277.3" y2="762.7" stroke="#333" stroke-width="0.55"/>
<line x1="278.4" y1="753.5" x2="278.4" y2="762.7" stroke="#333" stroke-width="0.55"/>
<line x1="279.5" y1="753.5" x2="279.5" y2="762.7" stroke="#333" stroke-width="0.55"/>
<line x1="280.6" y1="753.5" x2="280.6" y2="762.7" stroke="#333" stroke-width="0.55"/>
<line x1="281.7" y1="753.5" x2="281.7" y2="762.7" stroke="#333" stroke-width="0.55"/>
<line x1="282.8" y1="753.5" x2="282.8" y2="762.7" stroke="#333" stroke-width="0.55"/>
<line x1="273.8" y1="752.7" x2="273.8" y2="763.5" stroke="#fff" stroke-width="0.8"/>
<rect x="264.8" y="769" width="17.9" height="7" fill="none" stroke="#262626" stroke-width="0.5"/>
<rect x="267" y="765.5" width="13" height="3.5" fill="none" stroke="#262626" stroke-width="0.5"/>
<rect x="262.3" y="785" width="22.9" height="14.7" fill="#fff" stroke="#262626" stroke-width="0.6"/>
<rect x="263.5" y="786.2" width="20.5" height="12.3" fill="#fff" stroke="#262626" stroke-width="0.5"/>
<line x1="264.1" y1="786.8" x2="264.1" y2="797.9" stroke="#333" stroke-width="0.55"/>
<line x1="265.2" y1="786.8" x2="265.2" y2="797.9" stroke="#333" stroke-width="0.55"/>
<line x1="266.3" y1="786.8" x2="266.3" y2="797.9" stroke="#333" stroke-width="0.55"/>
<line x1="267.4" y1="786.8" x2="267.4" y2="797.9" stroke="#333" stroke-width="0.55"/>
<line x1="268.5" y1="786.8" x2="268.5" y2="797.9" stroke="#333" stroke-width="0.55"/>
<line x1="269.6" y1="786.8" x2="269.6" y2="797.9" stroke="#333" stroke-width="0.55"/>
<line x1="270.7" y1="786.8" x2="270.7" y2="797.9" stroke="#333" stroke-width="0.55"/>
<line x1="271.8" y1="786.8" x2="271.8" y2="797.9" stroke="#333" stroke-width="0.55"/>
<line x1="272.9" y1="786.8" x2="272.9" y2="797.9" stroke="#333" stroke-width="0.55"/>
<line x1="274" y1="786.8" x2="274" y2="797.9" stroke="#333" stroke-width="0.55"/>
<line x1="275.1" y1="786.8" x2="275.1" y2="797.9" stroke="#333" stroke-width="0.55"/>
<line x1="276.2" y1="786.8" x2="276.2" y2="797.9" stroke="#333" stroke-width="0.55"/>
<line x1="277.3" y1="786.8" x2="277.3" y2="797.9" stroke="#333" stroke-width="0.55"/>
<line x1="278.4" y1="786.8" x2="278.4" y2="797.9" stroke="#333" stroke-width="0.55"/>
<line x1="279.5" y1="786.8" x2="279.5" y2="797.9" stroke="#333" stroke-width="0.55"/>
<line x1="280.6" y1="786.8" x2="280.6" y2="797.9" stroke="#333" stroke-width="0.55"/>
<line x1="281.7" y1="786.8" x2="281.7" y2="797.9" stroke="#333" stroke-width="0.55"/>
<line x1="282.8" y1="786.8" x2="282.8" y2="797.9" stroke="#333" stroke-width="0.55"/>
<line x1="273.8" y1="786" x2="273.8" y2="798.7" stroke="#fff" stroke-width="0.8"/>
<rect x="264.8" y="804.6" width="17.9" height="6.9" fill="none" stroke="#262626" stroke-width="0.5"/>
<rect x="290" y="781" width="5.5" height="18.7" fill="none" stroke="#262626" stroke-width="0.5"/>
<line x1="292.7" y1="783" x2="292.7" y2="797" stroke="#262626" stroke-width="0.4"/>
<ellipse cx="401.4" cy="685.2" rx="4.9" ry="4.9" fill="none" stroke="#555" stroke-width="0.5" stroke-linecap="butt"/>
<text x="401.4" y="688" font-size="7.8" fill="#585858" text-anchor="middle">5</text>
<ellipse cx="441.9" cy="685.2" rx="4.9" ry="4.9" fill="none" stroke="#555" stroke-width="0.5" stroke-linecap="butt"/>
<text x="441.9" y="688" font-size="7.8" fill="#585858" text-anchor="middle">7</text>
<ellipse cx="500.8" cy="685.2" rx="4.9" ry="4.9" fill="none" stroke="#555" stroke-width="0.5" stroke-linecap="butt"/>
<text x="500.8" y="688" font-size="7.8" fill="#585858" text-anchor="middle">9</text>
<ellipse cx="401.4" cy="763.6" rx="4.9" ry="4.9" fill="none" stroke="#555" stroke-width="0.5" stroke-linecap="butt"/>
<text x="398.3" y="766.1" font-size="7.0" fill="#585858" text-anchor="start" textLength="6.0" lengthAdjust="spacingAndGlyphs">15</text>
<ellipse cx="487.2" cy="763.6" rx="4.9" ry="4.9" fill="none" stroke="#555" stroke-width="0.5" stroke-linecap="butt"/>
<text x="484.1" y="766.1" font-size="7.0" fill="#585858" text-anchor="start" textLength="6.0" lengthAdjust="spacingAndGlyphs">20</text>
<path d="M393.5 700 Q393.5 697 396 697 L398 697 L399 694.5 L401 694.5 L402 697 L408 697 Q410.5 697 410.5 700 V708 Q410.5 709.2 409 709.2 H395 Q393.5 709.2 393.5 708 Z" fill="#fff" stroke="#262626" stroke-width="0.6"/>
<line x1="396" y1="700" x2="408" y2="700" stroke="#262626" stroke-width="0.4"/>
<polyline points="397,709 397,712 390,713 389,715 389,736.7" fill="none" stroke="#262626" stroke-width="0.6"/>
<polyline points="399,709 399,713 392,714.5 391.5,716 391.5,736.7" fill="none" stroke="#262626" stroke-width="0.6"/>
<polyline points="400.5,709 400.5,736.7" fill="none" stroke="#262626" stroke-width="0.6"/>
<polyline points="403,709 403,736.7" fill="none" stroke="#262626" stroke-width="0.6"/>
<rect x="399.5" y="709" width="4.5" height="4" fill="#fff" stroke="#262626" stroke-width="0.6"/>
<polygon points="434.5,694.8 448.5,694.8 448,711 435,711" fill="#fff" stroke="#262626" stroke-width="0.6"/>
<polyline points="437,697 437,708 446,708" fill="none" stroke="#262626" stroke-width="0.6"/>
<polyline points="439,697 439,705 446,705" fill="none" stroke="#262626" stroke-width="0.6"/>
<path d="M434 712 Q441 709 449 712 L449 717 Q441 720 434 717 Z" fill="#fff" stroke="#262626" stroke-width="0.6"/>
<path d="M436 718 Q441.5 722 447 718 L446.5 721 Q441.5 724 436.5 721 Z" fill="#fff" stroke="#262626" stroke-width="0.6"/>
<polyline points="439.5,723 439.5,731 440.5,739.3 441.5,731 441.5,723" fill="none" stroke="#262626" stroke-width="0.6"/>
<rect x="472.9" y="697.5" width="3.8" height="14.3" fill="#fff" stroke="#262626" stroke-width="0.6"/>
<path d="M474 711.8 C473.8 722 467.8 728 467 739.3" fill="none" stroke="#262626" stroke-width="0.6"/>
<path d="M475.6 711.8 C475.4 722 469.4 728 468.6 739.3" fill="none" stroke="#262626" stroke-width="0.6"/>
<rect x="482.7" y="697.5" width="3.8" height="14.3" fill="#fff" stroke="#262626" stroke-width="0.6"/>
<path d="M483.8 711.8 C483.6 722 477.6 728 476.8 739.3" fill="none" stroke="#262626" stroke-width="0.6"/>
<path d="M485.4 711.8 C485.2 722 479.2 728 478.4 739.3" fill="none" stroke="#262626" stroke-width="0.6"/>
<rect x="492.4" y="697.5" width="3.8" height="14.3" fill="#fff" stroke="#262626" stroke-width="0.6"/>
<path d="M493.5 711.8 C493.3 722 487.3 728 486.5 739.3" fill="none" stroke="#262626" stroke-width="0.6"/>
<path d="M495.1 711.8 C494.9 722 488.9 728 488.1 739.3" fill="none" stroke="#262626" stroke-width="0.6"/>
<rect x="502.2" y="697.5" width="3.8" height="14.3" fill="#fff" stroke="#262626" stroke-width="0.6"/>
<path d="M503.2 711.8 C503.1 722 497.1 728 496.2 739.3" fill="none" stroke="#262626" stroke-width="0.6"/>
<path d="M504.9 711.8 C504.7 722 498.7 728 497.9 739.3" fill="none" stroke="#262626" stroke-width="0.6"/>
<rect x="511.9" y="697.5" width="3.8" height="14.3" fill="#fff" stroke="#262626" stroke-width="0.6"/>
<path d="M513 711.8 C512.8 722 506.8 728 506 739.3" fill="none" stroke="#262626" stroke-width="0.6"/>
<path d="M514.6 711.8 C514.4 722 508.4 728 507.6 739.3" fill="none" stroke="#262626" stroke-width="0.6"/>
<rect x="521.6" y="697.5" width="3.8" height="14.3" fill="#fff" stroke="#262626" stroke-width="0.6"/>
<path d="M522.8 711.8 C522.5 722 516.5 728 515.8 739.3" fill="none" stroke="#262626" stroke-width="0.6"/>
<path d="M524.3 711.8 C524.1 722 518.1 728 517.3 739.3" fill="none" stroke="#262626" stroke-width="0.6"/>
<rect x="531.4" y="697.5" width="3.8" height="14.3" fill="#fff" stroke="#262626" stroke-width="0.6"/>
<path d="M532.5 711.8 C532.3 722 526.3 728 525.5 739.3" fill="none" stroke="#262626" stroke-width="0.6"/>
<path d="M534.1 711.8 C533.9 722 527.9 728 527.1 739.3" fill="none" stroke="#262626" stroke-width="0.6"/>
<path d="M395.5 790 Q399.4 787.5 403.5 790 V797 Q399.4 799 395.5 797 Z" fill="#fff" stroke="#262626" stroke-width="0.6"/>
<path d="M396 797.5 Q399.4 800 403 797.5 L402.5 802.5 Q399.4 804.5 396.5 802.5 Z" fill="#fff" stroke="#262626" stroke-width="0.6"/>
<line x1="396.5" y1="792" x2="402.5" y2="792" stroke="#262626" stroke-width="0.4"/>
<line x1="396.5" y1="794.5" x2="402.5" y2="794.5" stroke="#262626" stroke-width="0.4"/>
<polyline points="398.2,804 398.2,812 400.8,812.5 400.8,804" fill="none" stroke="#262626" stroke-width="0.6"/>
<path d="M450 800 Q450 793 458 793 H464 Q470 793 470 800 Q470 807 464 808 H458 Q450 808 450 800 Z" fill="#fff" stroke="#262626" stroke-width="0.6"/>
<ellipse cx="459.5" cy="800.5" rx="4.5" ry="3.8" fill="none" stroke="#262626" stroke-width="0.6" stroke-linecap="butt"/>
<ellipse cx="459.5" cy="800.5" rx="2.5" ry="2.2" fill="#444" stroke="#262626" stroke-width="0.6" stroke-linecap="butt"/>
<polygon points="468,797 476,797.5 477.2,800.5 476,803.8 468,804" fill="#fff" stroke="#262626" stroke-width="0.6"/>
<line x1="472" y1="797.5" x2="472" y2="804" stroke="#262626" stroke-width="0.4"/>
<line x1="481.5" y1="803.4" x2="486" y2="803.4" stroke="#555" stroke-width="0.6"/>
<line x1="483.8" y1="801.1" x2="483.8" y2="805.7" stroke="#555" stroke-width="0.6"/>
<ellipse cx="506" cy="801" rx="14.5" ry="16.5" fill="none" stroke="#262626" stroke-width="0.55" stroke-linecap="butt" transform="rotate(-15 506 801)"/>
<ellipse cx="506" cy="801" rx="13.2" ry="15.2" fill="none" stroke="#262626" stroke-width="0.45" stroke-linecap="butt" transform="rotate(-15 506 801)"/>
<ellipse cx="508" cy="800" rx="11.5" ry="14.5" fill="none" stroke="#262626" stroke-width="0.55" stroke-linecap="butt" transform="rotate(25 508 800)"/>
<ellipse cx="508" cy="800" rx="10.2" ry="13.2" fill="none" stroke="#262626" stroke-width="0.45" stroke-linecap="butt" transform="rotate(25 508 800)"/>
<ellipse cx="504" cy="803" rx="12" ry="13.5" fill="none" stroke="#262626" stroke-width="0.55" stroke-linecap="butt" transform="rotate(70 504 803)"/>
<ellipse cx="504" cy="803" rx="10.7" ry="12.2" fill="none" stroke="#262626" stroke-width="0.45" stroke-linecap="butt" transform="rotate(70 504 803)"/>
<ellipse cx="507" cy="801" rx="9.5" ry="13" fill="none" stroke="#262626" stroke-width="0.55" stroke-linecap="butt" transform="rotate(-50 507 801)"/>
<ellipse cx="507" cy="801" rx="8.2" ry="11.7" fill="none" stroke="#262626" stroke-width="0.45" stroke-linecap="butt" transform="rotate(-50 507 801)"/>
<text x="215" y="20" font-size="8.5" fill="#585858" text-anchor="start">21</text>
<line x1="214" y1="20.6" x2="228" y2="20.6" stroke="#666" stroke-width="0.5"/>
<line x1="228" y1="20.6" x2="281" y2="50" stroke="#666" stroke-width="0.5"/>
<text x="165.4" y="169.2" font-size="8.5" fill="#585858" text-anchor="start">27</text>
<line x1="163.5" y1="171" x2="178.8" y2="171" stroke="#666" stroke-width="0.5"/>
<line x1="178.8" y1="171" x2="188.5" y2="211.5" stroke="#666" stroke-width="0.5"/>
<text x="257" y="180" font-size="8.5" fill="#585858" text-anchor="start">12</text>
<line x1="253.8" y1="181.5" x2="269.2" y2="181.5" stroke="#666" stroke-width="0.5"/>
<line x1="269.2" y1="181.5" x2="280.8" y2="225" stroke="#666" stroke-width="0.5"/>
<text x="417.6" y="170" font-size="8.5" fill="#585858" text-anchor="start">4</text>
<line x1="414.4" y1="171.6" x2="424.4" y2="171.6" stroke="#666" stroke-width="0.5"/>
<line x1="415" y1="171.6" x2="402.8" y2="243.5" stroke="#666" stroke-width="0.5"/>
<text x="461.5" y="162" font-size="8.5" fill="#585858" text-anchor="start">26</text>
<line x1="459" y1="164" x2="472" y2="164" stroke="#666" stroke-width="0.5"/>
<line x1="472" y1="164" x2="484" y2="200" stroke="#666" stroke-width="0.5"/>
<text x="535.5" y="178" font-size="8.5" fill="#585858" text-anchor="start">24</text>
<line x1="534.5" y1="180" x2="548" y2="180" stroke="#666" stroke-width="0.5"/>
<line x1="548" y1="180" x2="563" y2="237" stroke="#666" stroke-width="0.5"/>
<text x="600.5" y="232.6" font-size="8.5" fill="#585858" text-anchor="start">18</text>
<line x1="599" y1="234" x2="610.2" y2="234" stroke="#666" stroke-width="0.5"/>
<line x1="599" y1="234" x2="592.5" y2="222.5" stroke="#666" stroke-width="0.5"/>
<text x="623.5" y="232.6" font-size="8.5" fill="#585858" text-anchor="start">17</text>
<line x1="623" y1="234" x2="633.5" y2="234" stroke="#666" stroke-width="0.5"/>
<line x1="623" y1="234" x2="619.5" y2="208" stroke="#666" stroke-width="0.5"/>
<line x1="623" y1="234" x2="607.7" y2="213" stroke="#666" stroke-width="0.5"/>
<text x="58" y="338.8" font-size="8.5" fill="#585858" text-anchor="start">22</text>
<line x1="57.3" y1="340.8" x2="69.6" y2="340.8" stroke="#666" stroke-width="0.5"/>
<line x1="57.3" y1="340.8" x2="37" y2="389" stroke="#666" stroke-width="0.5"/>
<text x="221.5" y="667.7" font-size="8.5" fill="#585858" text-anchor="start">2</text>
<line x1="217" y1="669.2" x2="230.8" y2="669.2" stroke="#666" stroke-width="0.5"/>
<line x1="217" y1="669.2" x2="157.4" y2="520.5" stroke="#666" stroke-width="0.5"/>
<text x="267" y="592" font-size="8.5" fill="#585858" text-anchor="start">19</text>
<line x1="262" y1="593" x2="277.7" y2="593" stroke="#666" stroke-width="0.5"/>
<line x1="262" y1="593" x2="250" y2="475" stroke="#666" stroke-width="0.5"/>
<text x="304.6" y="380" font-size="8.5" fill="#585858" text-anchor="start">8</text>
<line x1="301.5" y1="381.5" x2="317" y2="381.5" stroke="#666" stroke-width="0.5"/>
<line x1="317" y1="381.5" x2="326" y2="392" stroke="#666" stroke-width="0.5"/>
<text x="388" y="625.3" font-size="8.5" fill="#585858" text-anchor="start">25</text>
<line x1="385" y1="627" x2="399.5" y2="627" stroke="#666" stroke-width="0.5"/>
<line x1="385" y1="627" x2="370" y2="510" stroke="#666" stroke-width="0.5"/>
<text x="407.5" y="597.8" font-size="8.5" fill="#585858" text-anchor="start">10</text>
<line x1="403.5" y1="599.2" x2="417.6" y2="599.2" stroke="#666" stroke-width="0.5"/>
<line x1="403.5" y1="599.2" x2="390" y2="482.7" stroke="#666" stroke-width="0.5"/>
<text x="419.8" y="580" font-size="8.5" fill="#585858" text-anchor="start">13</text>
<line x1="416.5" y1="581.4" x2="430.7" y2="581.4" stroke="#666" stroke-width="0.5"/>
<line x1="416.5" y1="581.4" x2="400" y2="452" stroke="#666" stroke-width="0.5"/>
<text x="429.7" y="557" font-size="8.5" fill="#585858" text-anchor="start">14</text>
<line x1="428.5" y1="558.3" x2="440.6" y2="558.3" stroke="#666" stroke-width="0.5"/>
<line x1="428.5" y1="558.3" x2="419.4" y2="402.4" stroke="#666" stroke-width="0.5"/>
<text x="460" y="547.5" font-size="8.5" fill="#585858" text-anchor="start">15</text>
<line x1="457" y1="548.6" x2="471" y2="548.6" stroke="#666" stroke-width="0.5"/>
<line x1="457" y1="548.6" x2="426.5" y2="406.5" stroke="#666" stroke-width="0.5"/>
<text x="483.5" y="547.5" font-size="8.5" fill="#585858" text-anchor="start">6</text>
<line x1="478.4" y1="548.6" x2="492.3" y2="548.6" stroke="#666" stroke-width="0.5"/>
<line x1="478.4" y1="548.6" x2="440.7" y2="408.5" stroke="#666" stroke-width="0.5"/>
<text x="504" y="527" font-size="8.5" fill="#585858" text-anchor="start">11</text>
<line x1="502" y1="529" x2="516" y2="529" stroke="#666" stroke-width="0.5"/>
<line x1="502" y1="529" x2="459" y2="432" stroke="#666" stroke-width="0.5"/>
<text x="520.8" y="617" font-size="8.5" fill="#585858" text-anchor="start">23</text>
<line x1="517.7" y1="617.5" x2="533" y2="617.5" stroke="#666" stroke-width="0.5"/>
<line x1="533" y1="617.5" x2="580.8" y2="538.5" stroke="#666" stroke-width="0.5"/>
<text x="612.6" y="331.6" font-size="8.5" fill="#585858" text-anchor="start">18</text>
<line x1="611" y1="333" x2="622" y2="333" stroke="#666" stroke-width="0.5"/>
<line x1="611" y1="333" x2="609.5" y2="356.5" stroke="#666" stroke-width="0.5"/>
<text x="630.5" y="328.6" font-size="8.5" fill="#585858" text-anchor="start">17</text>
<line x1="629.5" y1="330" x2="640" y2="330" stroke="#666" stroke-width="0.5"/>
<line x1="629.5" y1="330" x2="623.7" y2="348.3" stroke="#666" stroke-width="0.5"/>
<line x1="629.5" y1="330" x2="629" y2="345.6" stroke="#666" stroke-width="0.5"/>
<text x="108" y="691" font-size="8.5" fill="#585858" text-anchor="start">1</text>
<line x1="110.3" y1="693.7" x2="110.3" y2="748" stroke="#666" stroke-width="0.5"/>
<text x="284" y="691" font-size="8.5" fill="#585858" text-anchor="start">3</text>
<line x1="288" y1="693.7" x2="288" y2="745" stroke="#666" stroke-width="0.5"/>
<text x="528.5" y="851.6" font-family="Liberation Serif, serif" font-size="15.2" fill="#2a9fd8" stroke="#2a9fd8" stroke-width="0.25" style="font-variant:small-caps" textLength="76.5" lengthAdjust="spacingAndGlyphs">AquaPond</text>
<rect x="146.7" y="79.6" width="1" height="1.2" fill="#3344cc" stroke="none" stroke-width="0"/>
<rect x="174" y="96.8" width="10" height="1" fill="#3344cc" stroke="none" stroke-width="0"/>
</svg></body></html>
